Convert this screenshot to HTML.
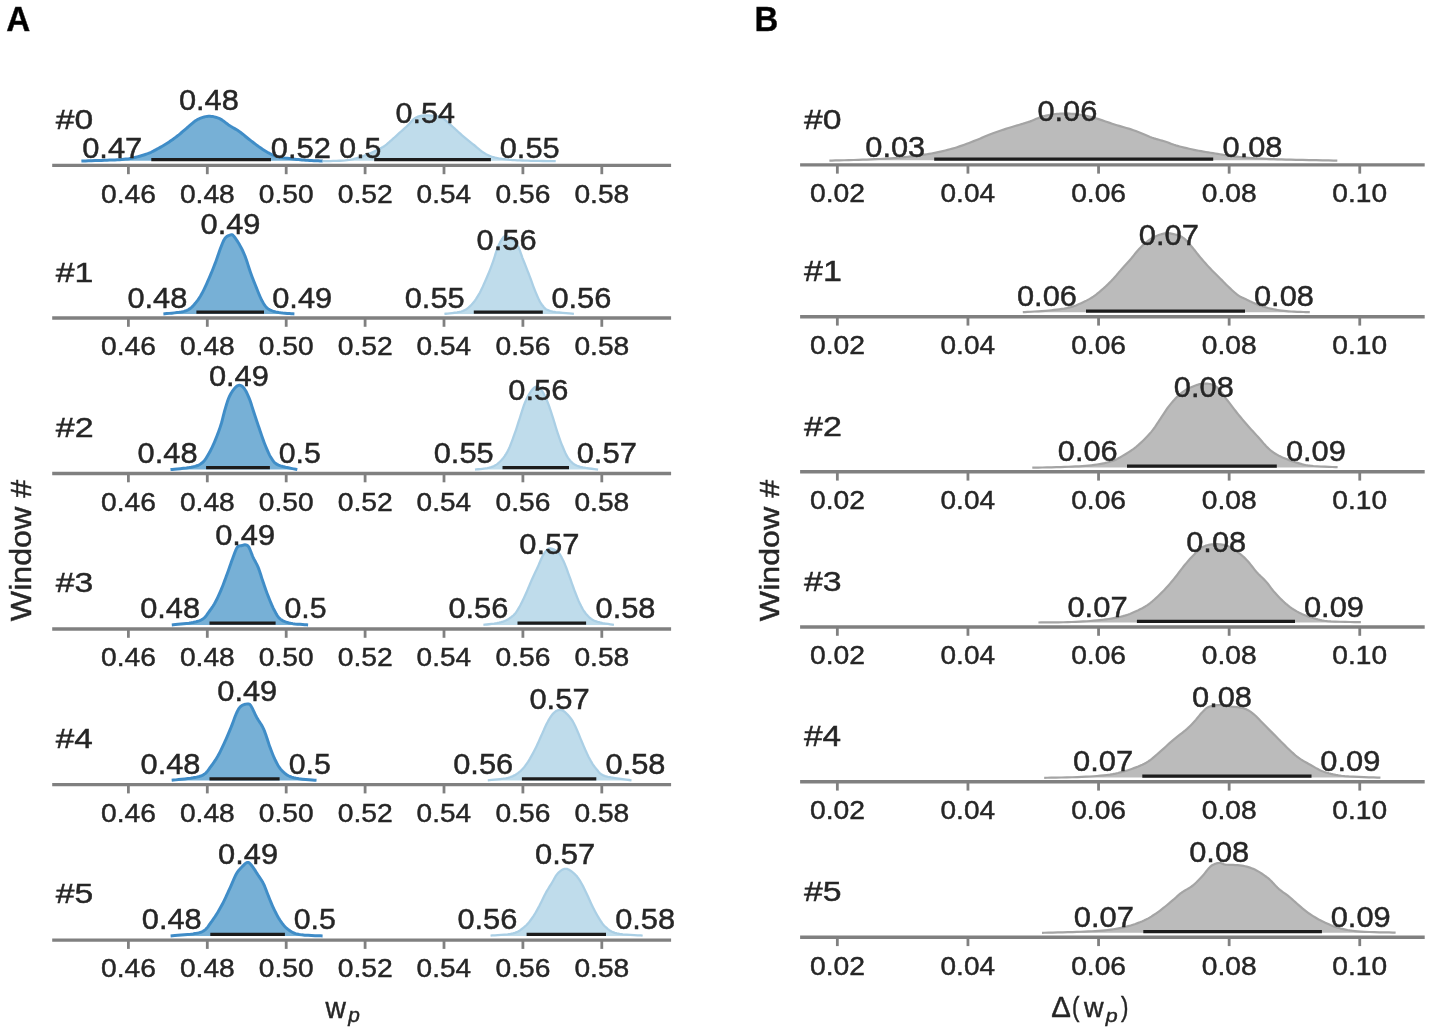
<!DOCTYPE html>
<html><head><meta charset="utf-8"><title>Posterior plots</title>
<style>html,body{margin:0;padding:0;background:#fff;overflow:hidden}svg{display:block}.t{filter:grayscale(1);stroke:#262626;stroke-width:0.45px}text{font-family:"Liberation Sans",sans-serif}</style>
</head><body>
<svg width="1431" height="1033" viewBox="0 0 1431 1033" font-family="Liberation Sans, sans-serif">
<rect width="1431" height="1033" fill="#ffffff"/>
<text class="t" transform="translate(6.27,30.60) scale(0.9574,1)" font-size="34.76" font-weight="bold" fill="#000">A</text>
<text class="t" transform="translate(754.58,30.60) scale(0.9479,1)" font-size="34.76" font-weight="bold" fill="#000">B</text>
<text class="t" transform="translate(31.41,621.16) rotate(-90) scale(1.0948,1)" font-size="29.39" fill="#262626">Window #</text>
<text class="t" transform="translate(778.72,621.16) rotate(-90) scale(1.1369,1)" font-size="28.30" fill="#262626">Window #</text>
<text class="t" transform="translate(325.42,1017.88) scale(0.9755,1)" font-size="28.93" fill="#262626">w</text>
<text class="t" transform="translate(348.24,1022.11) scale(1.0376,1)" font-size="20.08" font-style="italic" fill="#262626">p</text>
<text class="t" transform="translate(1051.14,1017.48) scale(1.0281,1)" font-size="28.60" fill="#262626">Δ</text>
<text class="t" transform="translate(1072.02,1016.10) scale(0.8307,1)" font-size="26.87" fill="#262626">(</text>
<text class="t" transform="translate(1083.92,1017.48) scale(0.9757,1)" font-size="27.79" fill="#262626">w</text>
<text class="t" transform="translate(1105.75,1022.34) scale(1.1250,1)" font-size="19.01" font-style="italic" fill="#262626">p</text>
<text class="t" transform="translate(1121.05,1016.10) scale(0.8307,1)" font-size="26.87" fill="#262626">)</text>
<line x1="52.2" y1="165.4" x2="671.1" y2="165.4" stroke="#808080" stroke-width="3.4"/>
<line x1="128.40" y1="165.4" x2="128.40" y2="174.20" stroke="#808080" stroke-width="2.8"/>
<text class="t" transform="translate(100.99,202.72) scale(1.0700,1)" font-size="26.37" fill="#262626">0.46</text>
<line x1="207.30" y1="165.4" x2="207.30" y2="174.20" stroke="#808080" stroke-width="2.8"/>
<text class="t" transform="translate(179.89,202.72) scale(1.0700,1)" font-size="26.37" fill="#262626">0.48</text>
<line x1="286.20" y1="165.4" x2="286.20" y2="174.20" stroke="#808080" stroke-width="2.8"/>
<text class="t" transform="translate(258.79,202.72) scale(1.0671,1)" font-size="26.37" fill="#262626">0.50</text>
<line x1="365.10" y1="165.4" x2="365.10" y2="174.20" stroke="#808080" stroke-width="2.8"/>
<text class="t" transform="translate(337.69,202.72) scale(1.0743,1)" font-size="26.37" fill="#262626">0.52</text>
<line x1="444.00" y1="165.4" x2="444.00" y2="174.20" stroke="#808080" stroke-width="2.8"/>
<text class="t" transform="translate(416.60,202.72) scale(1.0614,1)" font-size="26.37" fill="#262626">0.54</text>
<line x1="522.90" y1="165.4" x2="522.90" y2="174.20" stroke="#808080" stroke-width="2.8"/>
<text class="t" transform="translate(495.49,202.72) scale(1.0700,1)" font-size="26.37" fill="#262626">0.56</text>
<line x1="601.80" y1="165.4" x2="601.80" y2="174.20" stroke="#808080" stroke-width="2.8"/>
<text class="t" transform="translate(574.39,202.72) scale(1.0700,1)" font-size="26.37" fill="#262626">0.58</text>
<text class="t" transform="translate(55.75,128.71) scale(1.2276,1)" font-size="27.36" fill="#262626">#0</text>
<path d="M81.40,161.00 L83.20,160.95 L85.61,160.88 L88.49,160.80 L91.68,160.71 L95.02,160.62 L98.36,160.51 L101.54,160.41 L104.40,160.30 L107.06,160.20 L109.70,160.09 L112.31,159.99 L114.85,159.88 L117.31,159.76 L119.65,159.63 L121.85,159.47 L123.90,159.30 L125.74,159.11 L127.37,158.91 L128.85,158.71 L130.22,158.48 L131.55,158.23 L132.87,157.96 L134.23,157.65 L135.70,157.30 L137.26,156.91 L138.88,156.48 L140.52,156.02 L142.17,155.53 L143.81,155.02 L145.41,154.49 L146.95,153.95 L148.40,153.40 L149.76,152.84 L151.05,152.27 L152.29,151.68 L153.48,151.07 L154.65,150.45 L155.82,149.81 L156.99,149.16 L158.20,148.50 L159.43,147.83 L160.65,147.14 L161.88,146.44 L163.11,145.72 L164.33,145.00 L165.56,144.25 L166.78,143.48 L168.00,142.70 L169.22,141.90 L170.43,141.09 L171.64,140.25 L172.85,139.41 L174.06,138.54 L175.27,137.65 L176.48,136.74 L177.70,135.80 L178.92,134.83 L180.14,133.81 L181.37,132.77 L182.59,131.71 L183.82,130.64 L185.05,129.57 L186.27,128.52 L187.50,127.50 L188.72,126.47 L189.92,125.41 L191.11,124.35 L192.31,123.29 L193.52,122.28 L194.75,121.33 L196.01,120.46 L197.30,119.70 L198.63,119.02 L200.00,118.40 L201.40,117.85 L202.82,117.36 L204.25,116.96 L205.67,116.64 L207.10,116.42 L208.50,116.30 L209.90,116.29 L211.31,116.39 L212.73,116.58 L214.14,116.86 L215.54,117.22 L216.92,117.65 L218.28,118.15 L219.60,118.70 L220.89,119.35 L222.14,120.11 L223.37,120.97 L224.59,121.88 L225.79,122.82 L226.99,123.76 L228.19,124.66 L229.40,125.50 L230.62,126.27 L231.83,126.99 L233.04,127.69 L234.25,128.39 L235.46,129.09 L236.67,129.81 L237.88,130.58 L239.10,131.40 L240.32,132.29 L241.54,133.23 L242.77,134.20 L243.99,135.21 L245.22,136.22 L246.45,137.23 L247.67,138.23 L248.90,139.20 L250.12,140.15 L251.35,141.10 L252.58,142.05 L253.80,142.99 L255.03,143.92 L256.25,144.84 L257.48,145.73 L258.70,146.60 L259.93,147.46 L261.15,148.31 L262.38,149.14 L263.60,149.96 L264.82,150.75 L266.05,151.51 L267.27,152.23 L268.50,152.90 L269.69,153.52 L270.84,154.11 L271.96,154.65 L273.09,155.16 L274.27,155.64 L275.51,156.09 L276.84,156.51 L278.30,156.90 L279.90,157.26 L281.63,157.58 L283.46,157.86 L285.35,158.12 L287.28,158.35 L289.22,158.58 L291.13,158.79 L293.00,159.00 L294.83,159.20 L296.64,159.40 L298.46,159.57 L300.27,159.74 L302.09,159.89 L303.91,160.04 L305.75,160.17 L307.60,160.30 L309.58,160.42 L311.71,160.53 L313.92,160.64 L316.11,160.73 L318.19,160.82 L320.05,160.89 L321.62,160.95 L322.80,161.00" fill="none" stroke="#3f8bc8" stroke-width="3.0" stroke-linejoin="round"/>
<path d="M81.40,161.00 L83.20,160.95 L85.61,160.88 L88.49,160.80 L91.68,160.71 L95.02,160.62 L98.36,160.51 L101.54,160.41 L104.40,160.30 L107.06,160.20 L109.70,160.09 L112.31,159.99 L114.85,159.88 L117.31,159.76 L119.65,159.63 L121.85,159.47 L123.90,159.30 L125.74,159.11 L127.37,158.91 L128.85,158.71 L130.22,158.48 L131.55,158.23 L132.87,157.96 L134.23,157.65 L135.70,157.30 L137.26,156.91 L138.88,156.48 L140.52,156.02 L142.17,155.53 L143.81,155.02 L145.41,154.49 L146.95,153.95 L148.40,153.40 L149.76,152.84 L151.05,152.27 L152.29,151.68 L153.48,151.07 L154.65,150.45 L155.82,149.81 L156.99,149.16 L158.20,148.50 L159.43,147.83 L160.65,147.14 L161.88,146.44 L163.11,145.72 L164.33,145.00 L165.56,144.25 L166.78,143.48 L168.00,142.70 L169.22,141.90 L170.43,141.09 L171.64,140.25 L172.85,139.41 L174.06,138.54 L175.27,137.65 L176.48,136.74 L177.70,135.80 L178.92,134.83 L180.14,133.81 L181.37,132.77 L182.59,131.71 L183.82,130.64 L185.05,129.57 L186.27,128.52 L187.50,127.50 L188.72,126.47 L189.92,125.41 L191.11,124.35 L192.31,123.29 L193.52,122.28 L194.75,121.33 L196.01,120.46 L197.30,119.70 L198.63,119.02 L200.00,118.40 L201.40,117.85 L202.82,117.36 L204.25,116.96 L205.67,116.64 L207.10,116.42 L208.50,116.30 L209.90,116.29 L211.31,116.39 L212.73,116.58 L214.14,116.86 L215.54,117.22 L216.92,117.65 L218.28,118.15 L219.60,118.70 L220.89,119.35 L222.14,120.11 L223.37,120.97 L224.59,121.88 L225.79,122.82 L226.99,123.76 L228.19,124.66 L229.40,125.50 L230.62,126.27 L231.83,126.99 L233.04,127.69 L234.25,128.39 L235.46,129.09 L236.67,129.81 L237.88,130.58 L239.10,131.40 L240.32,132.29 L241.54,133.23 L242.77,134.20 L243.99,135.21 L245.22,136.22 L246.45,137.23 L247.67,138.23 L248.90,139.20 L250.12,140.15 L251.35,141.10 L252.58,142.05 L253.80,142.99 L255.03,143.92 L256.25,144.84 L257.48,145.73 L258.70,146.60 L259.93,147.46 L261.15,148.31 L262.38,149.14 L263.60,149.96 L264.82,150.75 L266.05,151.51 L267.27,152.23 L268.50,152.90 L269.69,153.52 L270.84,154.11 L271.96,154.65 L273.09,155.16 L274.27,155.64 L275.51,156.09 L276.84,156.51 L278.30,156.90 L279.90,157.26 L281.63,157.58 L283.46,157.86 L285.35,158.12 L287.28,158.35 L289.22,158.58 L291.13,158.79 L293.00,159.00 L294.83,159.20 L296.64,159.40 L298.46,159.57 L300.27,159.74 L302.09,159.89 L303.91,160.04 L305.75,160.17 L307.60,160.30 L309.58,160.42 L311.71,160.53 L313.92,160.64 L316.11,160.73 L318.19,160.82 L320.05,160.89 L321.62,160.95 L322.80,161.00 L322.80,160.7 L81.40,160.7 Z" fill="rgba(66,146,198,0.72)"/>
<line x1="151.3" y1="159.6" x2="271.0" y2="159.6" stroke="#1c1c1c" stroke-width="3.2"/>
<path d="M322.50,161.20 L324.32,161.15 L326.82,161.10 L329.80,161.03 L333.07,160.96 L336.44,160.86 L339.71,160.74 L342.70,160.59 L345.20,160.40 L347.25,160.18 L349.04,159.95 L350.63,159.68 L352.08,159.39 L353.45,159.07 L354.81,158.72 L356.20,158.33 L357.70,157.90 L359.27,157.43 L360.84,156.91 L362.42,156.36 L363.99,155.78 L365.57,155.17 L367.15,154.53 L368.72,153.87 L370.30,153.20 L371.90,152.50 L373.55,151.77 L375.21,151.01 L376.86,150.22 L378.48,149.43 L380.05,148.62 L381.53,147.81 L382.90,147.00 L384.15,146.19 L385.30,145.38 L386.36,144.56 L387.36,143.74 L388.33,142.90 L389.30,142.05 L390.28,141.18 L391.30,140.30 L392.35,139.39 L393.40,138.46 L394.45,137.51 L395.51,136.55 L396.56,135.58 L397.61,134.61 L398.65,133.65 L399.70,132.70 L400.76,131.75 L401.84,130.79 L402.93,129.83 L404.01,128.87 L405.07,127.92 L406.10,126.99 L407.08,126.08 L408.00,125.20 L408.85,124.33 L409.62,123.46 L410.35,122.60 L411.05,121.77 L411.73,120.97 L412.43,120.21 L413.14,119.52 L413.90,118.90 L414.69,118.35 L415.48,117.86 L416.28,117.42 L417.09,117.03 L417.93,116.69 L418.79,116.39 L419.68,116.13 L420.60,115.90 L421.55,115.71 L422.52,115.58 L423.51,115.48 L424.53,115.43 L425.58,115.41 L426.68,115.42 L427.81,115.45 L429.00,115.50 L430.29,115.57 L431.71,115.67 L433.21,115.80 L434.73,115.95 L436.22,116.13 L437.63,116.33 L438.91,116.55 L440.00,116.80 L440.85,117.04 L441.50,117.25 L442.00,117.48 L442.42,117.73 L442.84,118.04 L443.31,118.44 L443.91,118.95 L444.70,119.60 L445.68,120.41 L446.79,121.38 L448.01,122.46 L449.29,123.62 L450.61,124.84 L451.94,126.06 L453.24,127.26 L454.50,128.40 L455.72,129.51 L456.93,130.62 L458.14,131.74 L459.35,132.86 L460.56,133.97 L461.77,135.07 L462.98,136.15 L464.20,137.20 L465.42,138.22 L466.64,139.22 L467.87,140.20 L469.09,141.16 L470.32,142.12 L471.55,143.07 L472.77,144.03 L474.00,145.00 L475.23,146.00 L476.45,147.03 L477.68,148.07 L478.90,149.11 L480.12,150.12 L481.35,151.09 L482.57,151.99 L483.80,152.80 L484.99,153.53 L486.14,154.18 L487.26,154.78 L488.39,155.33 L489.57,155.84 L490.81,156.31 L492.14,156.76 L493.60,157.20 L495.17,157.61 L496.82,157.99 L498.54,158.34 L500.34,158.66 L502.22,158.96 L504.17,159.22 L506.20,159.47 L508.30,159.70 L510.45,159.90 L512.64,160.07 L514.89,160.21 L517.23,160.32 L519.66,160.43 L522.22,160.52 L524.93,160.61 L527.80,160.70 L531.08,160.79 L534.84,160.87 L538.87,160.95 L542.97,161.01 L546.91,161.07 L550.49,161.12 L553.49,161.16 L555.70,161.20 L555.70,160.7 L322.50,160.7 Z" fill="rgba(158,202,225,0.66)"/>
<path d="M322.50,161.20 L324.32,161.15 L326.82,161.10 L329.80,161.03 L333.07,160.96 L336.44,160.86 L339.71,160.74 L342.70,160.59 L345.20,160.40 L347.25,160.18 L349.04,159.95 L350.63,159.68 L352.08,159.39 L353.45,159.07 L354.81,158.72 L356.20,158.33 L357.70,157.90 L359.27,157.43 L360.84,156.91 L362.42,156.36 L363.99,155.78 L365.57,155.17 L367.15,154.53 L368.72,153.87 L370.30,153.20 L371.90,152.50 L373.55,151.77 L375.21,151.01 L376.86,150.22 L378.48,149.43 L380.05,148.62 L381.53,147.81 L382.90,147.00 L384.15,146.19 L385.30,145.38 L386.36,144.56 L387.36,143.74 L388.33,142.90 L389.30,142.05 L390.28,141.18 L391.30,140.30 L392.35,139.39 L393.40,138.46 L394.45,137.51 L395.51,136.55 L396.56,135.58 L397.61,134.61 L398.65,133.65 L399.70,132.70 L400.76,131.75 L401.84,130.79 L402.93,129.83 L404.01,128.87 L405.07,127.92 L406.10,126.99 L407.08,126.08 L408.00,125.20 L408.85,124.33 L409.62,123.46 L410.35,122.60 L411.05,121.77 L411.73,120.97 L412.43,120.21 L413.14,119.52 L413.90,118.90 L414.69,118.35 L415.48,117.86 L416.28,117.42 L417.09,117.03 L417.93,116.69 L418.79,116.39 L419.68,116.13 L420.60,115.90 L421.55,115.71 L422.52,115.58 L423.51,115.48 L424.53,115.43 L425.58,115.41 L426.68,115.42 L427.81,115.45 L429.00,115.50 L430.29,115.57 L431.71,115.67 L433.21,115.80 L434.73,115.95 L436.22,116.13 L437.63,116.33 L438.91,116.55 L440.00,116.80 L440.85,117.04 L441.50,117.25 L442.00,117.48 L442.42,117.73 L442.84,118.04 L443.31,118.44 L443.91,118.95 L444.70,119.60 L445.68,120.41 L446.79,121.38 L448.01,122.46 L449.29,123.62 L450.61,124.84 L451.94,126.06 L453.24,127.26 L454.50,128.40 L455.72,129.51 L456.93,130.62 L458.14,131.74 L459.35,132.86 L460.56,133.97 L461.77,135.07 L462.98,136.15 L464.20,137.20 L465.42,138.22 L466.64,139.22 L467.87,140.20 L469.09,141.16 L470.32,142.12 L471.55,143.07 L472.77,144.03 L474.00,145.00 L475.23,146.00 L476.45,147.03 L477.68,148.07 L478.90,149.11 L480.12,150.12 L481.35,151.09 L482.57,151.99 L483.80,152.80 L484.99,153.53 L486.14,154.18 L487.26,154.78 L488.39,155.33 L489.57,155.84 L490.81,156.31 L492.14,156.76 L493.60,157.20 L495.17,157.61 L496.82,157.99 L498.54,158.34 L500.34,158.66 L502.22,158.96 L504.17,159.22 L506.20,159.47 L508.30,159.70 L510.45,159.90 L512.64,160.07 L514.89,160.21 L517.23,160.32 L519.66,160.43 L522.22,160.52 L524.93,160.61 L527.80,160.70 L531.08,160.79 L534.84,160.87 L538.87,160.95 L542.97,161.01 L546.91,161.07 L550.49,161.12 L553.49,161.16 L555.70,161.20" fill="none" stroke="#aacfe5" stroke-width="2.3" stroke-linejoin="round"/>
<line x1="374.2" y1="159.6" x2="490.9" y2="159.6" stroke="#1c1c1c" stroke-width="3.2"/>
<text class="t" transform="translate(178.89,110.49) scale(1.0702,1)" font-size="28.78" fill="#262626">0.48</text>
<text class="t" transform="translate(82.13,157.89) scale(1.0745,1)" font-size="28.78" fill="#262626">0.47</text>
<text class="t" transform="translate(270.78,157.89) scale(1.0745,1)" font-size="28.78" fill="#262626">0.52</text>
<text class="t" transform="translate(395.45,123.09) scale(1.0616,1)" font-size="28.78" fill="#262626">0.54</text>
<text class="t" transform="translate(339.31,157.89) scale(1.0520,1)" font-size="28.78" fill="#262626">0.5</text>
<text class="t" transform="translate(499.74,157.89) scale(1.0688,1)" font-size="28.78" fill="#262626">0.55</text>
<line x1="800.1" y1="164.85" x2="1424.7" y2="164.85" stroke="#808080" stroke-width="3.4"/>
<line x1="837.35" y1="164.85" x2="837.35" y2="173.65" stroke="#808080" stroke-width="2.8"/>
<text class="t" transform="translate(809.94,202.17) scale(1.0743,1)" font-size="26.37" fill="#262626">0.02</text>
<line x1="967.95" y1="164.85" x2="967.95" y2="173.65" stroke="#808080" stroke-width="2.8"/>
<text class="t" transform="translate(940.55,202.17) scale(1.0614,1)" font-size="26.37" fill="#262626">0.04</text>
<line x1="1098.55" y1="164.85" x2="1098.55" y2="173.65" stroke="#808080" stroke-width="2.8"/>
<text class="t" transform="translate(1071.14,202.17) scale(1.0700,1)" font-size="26.37" fill="#262626">0.06</text>
<line x1="1229.15" y1="164.85" x2="1229.15" y2="173.65" stroke="#808080" stroke-width="2.8"/>
<text class="t" transform="translate(1201.74,202.17) scale(1.0700,1)" font-size="26.37" fill="#262626">0.08</text>
<line x1="1359.75" y1="164.85" x2="1359.75" y2="173.65" stroke="#808080" stroke-width="2.8"/>
<text class="t" transform="translate(1332.34,202.17) scale(1.0671,1)" font-size="26.37" fill="#262626">0.10</text>
<text class="t" transform="translate(804.05,128.55) scale(1.2061,1)" font-size="27.93" fill="#262626">#0</text>
<path d="M829.40,160.60 L831.98,160.54 L835.43,160.45 L839.53,160.36 L844.08,160.25 L848.88,160.13 L853.72,160.00 L858.40,159.85 L862.70,159.70 L866.77,159.54 L870.85,159.38 L874.93,159.20 L878.96,159.02 L882.94,158.82 L886.82,158.60 L890.58,158.36 L894.20,158.10 L897.69,157.81 L901.07,157.49 L904.35,157.15 L907.54,156.79 L910.62,156.42 L913.61,156.05 L916.50,155.67 L919.30,155.30 L921.96,154.94 L924.46,154.59 L926.84,154.24 L929.14,153.89 L931.38,153.51 L933.62,153.12 L935.88,152.68 L938.20,152.20 L940.56,151.68 L942.93,151.13 L945.29,150.55 L947.66,149.94 L950.02,149.30 L952.38,148.63 L954.74,147.93 L957.10,147.20 L959.48,146.42 L961.89,145.59 L964.32,144.73 L966.74,143.83 L969.13,142.93 L971.46,142.03 L973.73,141.15 L975.90,140.30 L977.95,139.48 L979.90,138.67 L981.77,137.87 L983.59,137.07 L985.39,136.29 L987.21,135.52 L989.07,134.75 L991.00,134.00 L993.03,133.25 L995.14,132.49 L997.29,131.74 L999.46,130.99 L1001.60,130.27 L1003.70,129.58 L1005.71,128.92 L1007.60,128.30 L1009.38,127.73 L1011.09,127.20 L1012.73,126.71 L1014.31,126.24 L1015.84,125.79 L1017.33,125.36 L1018.78,124.93 L1020.20,124.50 L1021.56,124.09 L1022.82,123.72 L1024.03,123.37 L1025.20,123.03 L1026.37,122.67 L1027.58,122.29 L1028.84,121.87 L1030.20,121.40 L1031.65,120.85 L1033.17,120.22 L1034.73,119.55 L1036.34,118.85 L1037.96,118.16 L1039.59,117.50 L1041.21,116.91 L1042.80,116.40 L1044.38,115.97 L1045.95,115.59 L1047.52,115.26 L1049.10,114.97 L1050.67,114.71 L1052.25,114.49 L1053.83,114.28 L1055.40,114.10 L1056.98,113.94 L1058.55,113.81 L1060.13,113.71 L1061.71,113.63 L1063.28,113.58 L1064.86,113.56 L1066.43,113.57 L1068.00,113.60 L1069.55,113.65 L1071.07,113.73 L1072.58,113.83 L1074.09,113.96 L1075.63,114.11 L1077.19,114.31 L1078.81,114.53 L1080.50,114.80 L1082.24,115.10 L1084.00,115.43 L1085.81,115.79 L1087.65,116.18 L1089.54,116.62 L1091.50,117.09 L1093.51,117.62 L1095.60,118.20 L1097.78,118.85 L1100.06,119.59 L1102.41,120.38 L1104.81,121.21 L1107.25,122.05 L1109.69,122.90 L1112.11,123.72 L1114.50,124.50 L1116.86,125.23 L1119.23,125.92 L1121.59,126.60 L1123.96,127.28 L1126.32,127.96 L1128.68,128.66 L1131.04,129.41 L1133.40,130.20 L1135.80,131.08 L1138.25,132.04 L1140.72,133.04 L1143.18,134.07 L1145.59,135.08 L1147.92,136.04 L1150.14,136.93 L1152.20,137.70 L1154.09,138.35 L1155.83,138.90 L1157.45,139.37 L1158.99,139.79 L1160.48,140.19 L1161.95,140.59 L1163.45,141.02 L1165.00,141.50 L1166.54,142.02 L1168.02,142.56 L1169.47,143.11 L1170.92,143.66 L1172.43,144.22 L1174.02,144.79 L1175.73,145.35 L1177.60,145.90 L1179.65,146.46 L1181.86,147.03 L1184.19,147.60 L1186.61,148.18 L1189.07,148.74 L1191.55,149.28 L1194.00,149.81 L1196.40,150.30 L1198.76,150.76 L1201.12,151.19 L1203.48,151.60 L1205.84,151.99 L1208.21,152.37 L1210.57,152.75 L1212.94,153.12 L1215.30,153.50 L1217.62,153.88 L1219.88,154.26 L1222.12,154.64 L1224.36,155.02 L1226.66,155.38 L1229.04,155.74 L1231.54,156.08 L1234.20,156.40 L1237.00,156.71 L1239.89,157.00 L1242.88,157.29 L1245.96,157.56 L1249.15,157.81 L1252.43,158.06 L1255.81,158.29 L1259.30,158.50 L1262.83,158.70 L1266.37,158.87 L1269.98,159.03 L1273.71,159.17 L1277.61,159.31 L1281.72,159.44 L1286.10,159.57 L1290.80,159.70 L1296.21,159.83 L1302.46,159.97 L1309.18,160.10 L1316.02,160.22 L1322.61,160.34 L1328.59,160.45 L1333.61,160.53 L1337.30,160.60 L1337.30,160.3 L829.40,160.3 Z" fill="#bbbbbb"/>
<path d="M829.40,160.60 L831.98,160.54 L835.43,160.45 L839.53,160.36 L844.08,160.25 L848.88,160.13 L853.72,160.00 L858.40,159.85 L862.70,159.70 L866.77,159.54 L870.85,159.38 L874.93,159.20 L878.96,159.02 L882.94,158.82 L886.82,158.60 L890.58,158.36 L894.20,158.10 L897.69,157.81 L901.07,157.49 L904.35,157.15 L907.54,156.79 L910.62,156.42 L913.61,156.05 L916.50,155.67 L919.30,155.30 L921.96,154.94 L924.46,154.59 L926.84,154.24 L929.14,153.89 L931.38,153.51 L933.62,153.12 L935.88,152.68 L938.20,152.20 L940.56,151.68 L942.93,151.13 L945.29,150.55 L947.66,149.94 L950.02,149.30 L952.38,148.63 L954.74,147.93 L957.10,147.20 L959.48,146.42 L961.89,145.59 L964.32,144.73 L966.74,143.83 L969.13,142.93 L971.46,142.03 L973.73,141.15 L975.90,140.30 L977.95,139.48 L979.90,138.67 L981.77,137.87 L983.59,137.07 L985.39,136.29 L987.21,135.52 L989.07,134.75 L991.00,134.00 L993.03,133.25 L995.14,132.49 L997.29,131.74 L999.46,130.99 L1001.60,130.27 L1003.70,129.58 L1005.71,128.92 L1007.60,128.30 L1009.38,127.73 L1011.09,127.20 L1012.73,126.71 L1014.31,126.24 L1015.84,125.79 L1017.33,125.36 L1018.78,124.93 L1020.20,124.50 L1021.56,124.09 L1022.82,123.72 L1024.03,123.37 L1025.20,123.03 L1026.37,122.67 L1027.58,122.29 L1028.84,121.87 L1030.20,121.40 L1031.65,120.85 L1033.17,120.22 L1034.73,119.55 L1036.34,118.85 L1037.96,118.16 L1039.59,117.50 L1041.21,116.91 L1042.80,116.40 L1044.38,115.97 L1045.95,115.59 L1047.52,115.26 L1049.10,114.97 L1050.67,114.71 L1052.25,114.49 L1053.83,114.28 L1055.40,114.10 L1056.98,113.94 L1058.55,113.81 L1060.13,113.71 L1061.71,113.63 L1063.28,113.58 L1064.86,113.56 L1066.43,113.57 L1068.00,113.60 L1069.55,113.65 L1071.07,113.73 L1072.58,113.83 L1074.09,113.96 L1075.63,114.11 L1077.19,114.31 L1078.81,114.53 L1080.50,114.80 L1082.24,115.10 L1084.00,115.43 L1085.81,115.79 L1087.65,116.18 L1089.54,116.62 L1091.50,117.09 L1093.51,117.62 L1095.60,118.20 L1097.78,118.85 L1100.06,119.59 L1102.41,120.38 L1104.81,121.21 L1107.25,122.05 L1109.69,122.90 L1112.11,123.72 L1114.50,124.50 L1116.86,125.23 L1119.23,125.92 L1121.59,126.60 L1123.96,127.28 L1126.32,127.96 L1128.68,128.66 L1131.04,129.41 L1133.40,130.20 L1135.80,131.08 L1138.25,132.04 L1140.72,133.04 L1143.18,134.07 L1145.59,135.08 L1147.92,136.04 L1150.14,136.93 L1152.20,137.70 L1154.09,138.35 L1155.83,138.90 L1157.45,139.37 L1158.99,139.79 L1160.48,140.19 L1161.95,140.59 L1163.45,141.02 L1165.00,141.50 L1166.54,142.02 L1168.02,142.56 L1169.47,143.11 L1170.92,143.66 L1172.43,144.22 L1174.02,144.79 L1175.73,145.35 L1177.60,145.90 L1179.65,146.46 L1181.86,147.03 L1184.19,147.60 L1186.61,148.18 L1189.07,148.74 L1191.55,149.28 L1194.00,149.81 L1196.40,150.30 L1198.76,150.76 L1201.12,151.19 L1203.48,151.60 L1205.84,151.99 L1208.21,152.37 L1210.57,152.75 L1212.94,153.12 L1215.30,153.50 L1217.62,153.88 L1219.88,154.26 L1222.12,154.64 L1224.36,155.02 L1226.66,155.38 L1229.04,155.74 L1231.54,156.08 L1234.20,156.40 L1237.00,156.71 L1239.89,157.00 L1242.88,157.29 L1245.96,157.56 L1249.15,157.81 L1252.43,158.06 L1255.81,158.29 L1259.30,158.50 L1262.83,158.70 L1266.37,158.87 L1269.98,159.03 L1273.71,159.17 L1277.61,159.31 L1281.72,159.44 L1286.10,159.57 L1290.80,159.70 L1296.21,159.83 L1302.46,159.97 L1309.18,160.10 L1316.02,160.22 L1322.61,160.34 L1328.59,160.45 L1333.61,160.53 L1337.30,160.60" fill="none" stroke="#a4a4a4" stroke-width="2.2" stroke-linejoin="round"/>
<line x1="934.2" y1="159.15" x2="1213.2" y2="159.15" stroke="#1c1c1c" stroke-width="3.2"/>
<text class="t" transform="translate(1037.39,121.09) scale(1.0702,1)" font-size="28.78" fill="#262626">0.06</text>
<text class="t" transform="translate(865.29,156.69) scale(1.0702,1)" font-size="28.78" fill="#262626">0.03</text>
<text class="t" transform="translate(1222.54,156.69) scale(1.0702,1)" font-size="28.78" fill="#262626">0.08</text>
<line x1="52.2" y1="318.0" x2="671.1" y2="318.0" stroke="#808080" stroke-width="3.4"/>
<line x1="128.40" y1="318.0" x2="128.40" y2="326.80" stroke="#808080" stroke-width="2.8"/>
<text class="t" transform="translate(100.99,355.32) scale(1.0700,1)" font-size="26.37" fill="#262626">0.46</text>
<line x1="207.30" y1="318.0" x2="207.30" y2="326.80" stroke="#808080" stroke-width="2.8"/>
<text class="t" transform="translate(179.89,355.32) scale(1.0700,1)" font-size="26.37" fill="#262626">0.48</text>
<line x1="286.20" y1="318.0" x2="286.20" y2="326.80" stroke="#808080" stroke-width="2.8"/>
<text class="t" transform="translate(258.79,355.32) scale(1.0671,1)" font-size="26.37" fill="#262626">0.50</text>
<line x1="365.10" y1="318.0" x2="365.10" y2="326.80" stroke="#808080" stroke-width="2.8"/>
<text class="t" transform="translate(337.69,355.32) scale(1.0743,1)" font-size="26.37" fill="#262626">0.52</text>
<line x1="444.00" y1="318.0" x2="444.00" y2="326.80" stroke="#808080" stroke-width="2.8"/>
<text class="t" transform="translate(416.60,355.32) scale(1.0614,1)" font-size="26.37" fill="#262626">0.54</text>
<line x1="522.90" y1="318.0" x2="522.90" y2="326.80" stroke="#808080" stroke-width="2.8"/>
<text class="t" transform="translate(495.49,355.32) scale(1.0700,1)" font-size="26.37" fill="#262626">0.56</text>
<line x1="601.80" y1="318.0" x2="601.80" y2="326.80" stroke="#808080" stroke-width="2.8"/>
<text class="t" transform="translate(574.39,355.32) scale(1.0700,1)" font-size="26.37" fill="#262626">0.58</text>
<text class="t" transform="translate(55.75,281.58) scale(1.2042,1)" font-size="28.16" fill="#262626">#1</text>
<path d="M163.40,313.90 L164.84,313.76 L166.82,313.59 L169.18,313.38 L171.78,313.14 L174.43,312.88 L176.99,312.60 L179.30,312.31 L181.20,312.00 L182.71,311.69 L184.01,311.38 L185.13,311.07 L186.12,310.72 L187.02,310.35 L187.87,309.93 L188.71,309.45 L189.60,308.90 L190.49,308.29 L191.32,307.62 L192.12,306.91 L192.88,306.15 L193.63,305.34 L194.37,304.48 L195.13,303.56 L195.90,302.60 L196.68,301.61 L197.45,300.60 L198.22,299.54 L198.99,298.44 L199.76,297.26 L200.55,295.99 L201.36,294.61 L202.20,293.10 L203.07,291.43 L203.98,289.61 L204.91,287.67 L205.85,285.64 L206.79,283.56 L207.72,281.47 L208.63,279.40 L209.50,277.40 L210.34,275.43 L211.17,273.45 L211.98,271.47 L212.78,269.49 L213.56,267.51 L214.33,265.55 L215.07,263.61 L215.80,261.70 L216.51,259.77 L217.20,257.82 L217.87,255.86 L218.53,253.92 L219.17,252.04 L219.80,250.24 L220.41,248.55 L221.00,247.00 L221.57,245.57 L222.09,244.23 L222.60,242.98 L223.09,241.82 L223.59,240.76 L224.10,239.78 L224.63,238.90 L225.20,238.10 L225.82,237.41 L226.50,236.82 L227.20,236.33 L227.92,235.93 L228.63,235.61 L229.30,235.35 L229.94,235.15 L230.50,235.00 L230.97,234.87 L231.35,234.76 L231.68,234.71 L231.99,234.72 L232.30,234.83 L232.65,235.06 L233.07,235.45 L233.60,236.00 L234.24,236.76 L234.98,237.72 L235.78,238.84 L236.62,240.07 L237.48,241.39 L238.33,242.74 L239.14,244.09 L239.90,245.40 L240.60,246.67 L241.28,247.92 L241.93,249.20 L242.56,250.50 L243.19,251.85 L243.82,253.28 L244.45,254.78 L245.10,256.40 L245.76,258.16 L246.42,260.06 L247.08,262.07 L247.75,264.14 L248.42,266.23 L249.08,268.29 L249.74,270.30 L250.40,272.20 L251.05,274.00 L251.68,275.73 L252.31,277.41 L252.94,279.07 L253.57,280.72 L254.23,282.37 L254.90,284.06 L255.60,285.80 L256.33,287.63 L257.10,289.55 L257.88,291.51 L258.68,293.48 L259.49,295.40 L260.30,297.24 L261.10,298.96 L261.90,300.50 L262.66,301.88 L263.38,303.16 L264.08,304.32 L264.79,305.39 L265.53,306.38 L266.33,307.29 L267.21,308.12 L268.20,308.90 L269.28,309.59 L270.41,310.19 L271.60,310.70 L272.86,311.14 L274.20,311.52 L275.61,311.87 L277.11,312.19 L278.70,312.50 L280.52,312.79 L282.63,313.04 L284.90,313.25 L287.21,313.43 L289.43,313.57 L291.46,313.70 L293.15,313.81 L294.40,313.90" fill="none" stroke="#3f8bc8" stroke-width="3.0" stroke-linejoin="round"/>
<path d="M163.40,313.90 L164.84,313.76 L166.82,313.59 L169.18,313.38 L171.78,313.14 L174.43,312.88 L176.99,312.60 L179.30,312.31 L181.20,312.00 L182.71,311.69 L184.01,311.38 L185.13,311.07 L186.12,310.72 L187.02,310.35 L187.87,309.93 L188.71,309.45 L189.60,308.90 L190.49,308.29 L191.32,307.62 L192.12,306.91 L192.88,306.15 L193.63,305.34 L194.37,304.48 L195.13,303.56 L195.90,302.60 L196.68,301.61 L197.45,300.60 L198.22,299.54 L198.99,298.44 L199.76,297.26 L200.55,295.99 L201.36,294.61 L202.20,293.10 L203.07,291.43 L203.98,289.61 L204.91,287.67 L205.85,285.64 L206.79,283.56 L207.72,281.47 L208.63,279.40 L209.50,277.40 L210.34,275.43 L211.17,273.45 L211.98,271.47 L212.78,269.49 L213.56,267.51 L214.33,265.55 L215.07,263.61 L215.80,261.70 L216.51,259.77 L217.20,257.82 L217.87,255.86 L218.53,253.92 L219.17,252.04 L219.80,250.24 L220.41,248.55 L221.00,247.00 L221.57,245.57 L222.09,244.23 L222.60,242.98 L223.09,241.82 L223.59,240.76 L224.10,239.78 L224.63,238.90 L225.20,238.10 L225.82,237.41 L226.50,236.82 L227.20,236.33 L227.92,235.93 L228.63,235.61 L229.30,235.35 L229.94,235.15 L230.50,235.00 L230.97,234.87 L231.35,234.76 L231.68,234.71 L231.99,234.72 L232.30,234.83 L232.65,235.06 L233.07,235.45 L233.60,236.00 L234.24,236.76 L234.98,237.72 L235.78,238.84 L236.62,240.07 L237.48,241.39 L238.33,242.74 L239.14,244.09 L239.90,245.40 L240.60,246.67 L241.28,247.92 L241.93,249.20 L242.56,250.50 L243.19,251.85 L243.82,253.28 L244.45,254.78 L245.10,256.40 L245.76,258.16 L246.42,260.06 L247.08,262.07 L247.75,264.14 L248.42,266.23 L249.08,268.29 L249.74,270.30 L250.40,272.20 L251.05,274.00 L251.68,275.73 L252.31,277.41 L252.94,279.07 L253.57,280.72 L254.23,282.37 L254.90,284.06 L255.60,285.80 L256.33,287.63 L257.10,289.55 L257.88,291.51 L258.68,293.48 L259.49,295.40 L260.30,297.24 L261.10,298.96 L261.90,300.50 L262.66,301.88 L263.38,303.16 L264.08,304.32 L264.79,305.39 L265.53,306.38 L266.33,307.29 L267.21,308.12 L268.20,308.90 L269.28,309.59 L270.41,310.19 L271.60,310.70 L272.86,311.14 L274.20,311.52 L275.61,311.87 L277.11,312.19 L278.70,312.50 L280.52,312.79 L282.63,313.04 L284.90,313.25 L287.21,313.43 L289.43,313.57 L291.46,313.70 L293.15,313.81 L294.40,313.90 L294.40,314.0 L163.40,314.0 Z" fill="rgba(66,146,198,0.72)"/>
<line x1="196.4" y1="312.2" x2="264.0" y2="312.2" stroke="#1c1c1c" stroke-width="3.2"/>
<path d="M444.40,313.90 L445.75,313.74 L447.59,313.55 L449.79,313.33 L452.21,313.06 L454.70,312.75 L457.13,312.40 L459.34,311.98 L461.20,311.50 L462.74,310.98 L464.09,310.42 L465.31,309.82 L466.42,309.17 L467.47,308.44 L468.49,307.63 L469.52,306.72 L470.60,305.70 L471.70,304.56 L472.79,303.32 L473.87,301.99 L474.93,300.57 L475.97,299.07 L476.99,297.50 L478.00,295.88 L479.00,294.20 L479.98,292.44 L480.95,290.57 L481.90,288.62 L482.83,286.62 L483.75,284.58 L484.65,282.53 L485.53,280.50 L486.40,278.50 L487.25,276.53 L488.08,274.55 L488.89,272.58 L489.69,270.60 L490.47,268.62 L491.23,266.65 L491.97,264.67 L492.70,262.70 L493.40,260.69 L494.08,258.62 L494.73,256.53 L495.37,254.45 L496.00,252.42 L496.63,250.48 L497.26,248.66 L497.90,247.00 L498.57,245.47 L499.25,244.02 L499.95,242.66 L500.64,241.40 L501.32,240.25 L501.96,239.23 L502.56,238.34 L503.10,237.60 L503.58,237.03 L504.00,236.65 L504.38,236.42 L504.73,236.31 L505.05,236.27 L505.36,236.28 L505.68,236.30 L506.00,236.30 L506.28,236.27 L506.49,236.23 L506.67,236.22 L506.86,236.25 L507.08,236.34 L507.39,236.52 L507.82,236.79 L508.40,237.20 L509.18,237.70 L510.13,238.26 L511.20,238.89 L512.36,239.62 L513.54,240.47 L514.71,241.46 L515.81,242.59 L516.80,243.90 L517.69,245.43 L518.52,247.19 L519.32,249.13 L520.09,251.19 L520.84,253.32 L521.58,255.46 L522.33,257.58 L523.10,259.60 L523.88,261.55 L524.65,263.50 L525.43,265.44 L526.20,267.38 L526.97,269.33 L527.75,271.30 L528.52,273.28 L529.30,275.30 L530.08,277.38 L530.87,279.52 L531.66,281.70 L532.44,283.89 L533.23,286.06 L534.02,288.17 L534.81,290.19 L535.60,292.10 L536.37,293.92 L537.13,295.69 L537.87,297.41 L538.62,299.06 L539.38,300.62 L540.18,302.09 L541.01,303.46 L541.90,304.70 L542.75,305.81 L543.50,306.80 L544.23,307.67 L545.02,308.46 L545.94,309.16 L547.08,309.81 L548.51,310.42 L550.30,311.00 L552.68,311.55 L555.68,312.03 L559.07,312.46 L562.62,312.84 L566.11,313.17 L569.30,313.46 L571.98,313.70 L573.90,313.90 L573.90,314.0 L444.40,314.0 Z" fill="rgba(158,202,225,0.66)"/>
<path d="M444.40,313.90 L445.75,313.74 L447.59,313.55 L449.79,313.33 L452.21,313.06 L454.70,312.75 L457.13,312.40 L459.34,311.98 L461.20,311.50 L462.74,310.98 L464.09,310.42 L465.31,309.82 L466.42,309.17 L467.47,308.44 L468.49,307.63 L469.52,306.72 L470.60,305.70 L471.70,304.56 L472.79,303.32 L473.87,301.99 L474.93,300.57 L475.97,299.07 L476.99,297.50 L478.00,295.88 L479.00,294.20 L479.98,292.44 L480.95,290.57 L481.90,288.62 L482.83,286.62 L483.75,284.58 L484.65,282.53 L485.53,280.50 L486.40,278.50 L487.25,276.53 L488.08,274.55 L488.89,272.58 L489.69,270.60 L490.47,268.62 L491.23,266.65 L491.97,264.67 L492.70,262.70 L493.40,260.69 L494.08,258.62 L494.73,256.53 L495.37,254.45 L496.00,252.42 L496.63,250.48 L497.26,248.66 L497.90,247.00 L498.57,245.47 L499.25,244.02 L499.95,242.66 L500.64,241.40 L501.32,240.25 L501.96,239.23 L502.56,238.34 L503.10,237.60 L503.58,237.03 L504.00,236.65 L504.38,236.42 L504.73,236.31 L505.05,236.27 L505.36,236.28 L505.68,236.30 L506.00,236.30 L506.28,236.27 L506.49,236.23 L506.67,236.22 L506.86,236.25 L507.08,236.34 L507.39,236.52 L507.82,236.79 L508.40,237.20 L509.18,237.70 L510.13,238.26 L511.20,238.89 L512.36,239.62 L513.54,240.47 L514.71,241.46 L515.81,242.59 L516.80,243.90 L517.69,245.43 L518.52,247.19 L519.32,249.13 L520.09,251.19 L520.84,253.32 L521.58,255.46 L522.33,257.58 L523.10,259.60 L523.88,261.55 L524.65,263.50 L525.43,265.44 L526.20,267.38 L526.97,269.33 L527.75,271.30 L528.52,273.28 L529.30,275.30 L530.08,277.38 L530.87,279.52 L531.66,281.70 L532.44,283.89 L533.23,286.06 L534.02,288.17 L534.81,290.19 L535.60,292.10 L536.37,293.92 L537.13,295.69 L537.87,297.41 L538.62,299.06 L539.38,300.62 L540.18,302.09 L541.01,303.46 L541.90,304.70 L542.75,305.81 L543.50,306.80 L544.23,307.67 L545.02,308.46 L545.94,309.16 L547.08,309.81 L548.51,310.42 L550.30,311.00 L552.68,311.55 L555.68,312.03 L559.07,312.46 L562.62,312.84 L566.11,313.17 L569.30,313.46 L571.98,313.70 L573.90,313.90" fill="none" stroke="#aacfe5" stroke-width="2.3" stroke-linejoin="round"/>
<line x1="473.8" y1="312.2" x2="542.8" y2="312.2" stroke="#1c1c1c" stroke-width="3.2"/>
<text class="t" transform="translate(200.49,234.49) scale(1.0716,1)" font-size="28.78" fill="#262626">0.49</text>
<text class="t" transform="translate(127.39,307.89) scale(1.0702,1)" font-size="28.78" fill="#262626">0.48</text>
<text class="t" transform="translate(272.19,307.89) scale(1.0716,1)" font-size="28.78" fill="#262626">0.49</text>
<text class="t" transform="translate(476.59,249.59) scale(1.0702,1)" font-size="28.78" fill="#262626">0.56</text>
<text class="t" transform="translate(404.74,307.89) scale(1.0688,1)" font-size="28.78" fill="#262626">0.55</text>
<text class="t" transform="translate(551.44,307.89) scale(1.0702,1)" font-size="28.78" fill="#262626">0.56</text>
<line x1="800.1" y1="316.8" x2="1424.7" y2="316.8" stroke="#808080" stroke-width="3.4"/>
<line x1="837.35" y1="316.8" x2="837.35" y2="325.60" stroke="#808080" stroke-width="2.8"/>
<text class="t" transform="translate(809.94,354.12) scale(1.0743,1)" font-size="26.37" fill="#262626">0.02</text>
<line x1="967.95" y1="316.8" x2="967.95" y2="325.60" stroke="#808080" stroke-width="2.8"/>
<text class="t" transform="translate(940.55,354.12) scale(1.0614,1)" font-size="26.37" fill="#262626">0.04</text>
<line x1="1098.55" y1="316.8" x2="1098.55" y2="325.60" stroke="#808080" stroke-width="2.8"/>
<text class="t" transform="translate(1071.14,354.12) scale(1.0700,1)" font-size="26.37" fill="#262626">0.06</text>
<line x1="1229.15" y1="316.8" x2="1229.15" y2="325.60" stroke="#808080" stroke-width="2.8"/>
<text class="t" transform="translate(1201.74,354.12) scale(1.0700,1)" font-size="26.37" fill="#262626">0.08</text>
<line x1="1359.75" y1="316.8" x2="1359.75" y2="325.60" stroke="#808080" stroke-width="2.8"/>
<text class="t" transform="translate(1332.34,354.12) scale(1.0671,1)" font-size="26.37" fill="#262626">0.10</text>
<text class="t" transform="translate(804.05,280.78) scale(1.1831,1)" font-size="28.74" fill="#262626">#1</text>
<path d="M1022.80,312.20 L1024.82,312.08 L1027.55,311.92 L1030.80,311.74 L1034.39,311.52 L1038.14,311.29 L1041.86,311.04 L1045.38,310.78 L1048.50,310.50 L1051.33,310.22 L1054.10,309.93 L1056.78,309.63 L1059.37,309.31 L1061.86,308.96 L1064.26,308.58 L1066.54,308.16 L1068.70,307.70 L1070.72,307.19 L1072.58,306.63 L1074.32,306.03 L1075.96,305.41 L1077.53,304.75 L1079.06,304.08 L1080.58,303.39 L1082.10,302.70 L1083.61,302.01 L1085.06,301.32 L1086.47,300.62 L1087.84,299.90 L1089.20,299.15 L1090.56,298.35 L1091.92,297.51 L1093.30,296.60 L1094.71,295.61 L1096.13,294.55 L1097.56,293.43 L1098.99,292.28 L1100.40,291.10 L1101.77,289.91 L1103.11,288.74 L1104.40,287.60 L1105.63,286.48 L1106.83,285.37 L1107.98,284.26 L1109.11,283.15 L1110.21,282.04 L1111.28,280.93 L1112.35,279.82 L1113.40,278.70 L1114.42,277.59 L1115.41,276.48 L1116.36,275.38 L1117.30,274.27 L1118.24,273.15 L1119.19,272.02 L1120.18,270.87 L1121.20,269.70 L1122.27,268.50 L1123.37,267.29 L1124.49,266.05 L1125.63,264.81 L1126.78,263.55 L1127.93,262.27 L1129.07,260.99 L1130.20,259.70 L1131.32,258.37 L1132.46,256.99 L1133.59,255.58 L1134.72,254.17 L1135.85,252.79 L1136.95,251.45 L1138.04,250.17 L1139.10,249.00 L1140.12,247.92 L1141.10,246.92 L1142.05,245.97 L1142.99,245.08 L1143.94,244.23 L1144.89,243.41 L1145.88,242.60 L1146.90,241.80 L1147.97,241.00 L1149.07,240.22 L1150.19,239.46 L1151.33,238.73 L1152.48,238.02 L1153.63,237.37 L1154.77,236.76 L1155.90,236.20 L1157.03,235.70 L1158.19,235.23 L1159.35,234.81 L1160.51,234.44 L1161.65,234.11 L1162.75,233.82 L1163.81,233.59 L1164.80,233.40 L1165.69,233.26 L1166.46,233.16 L1167.17,233.10 L1167.86,233.09 L1168.56,233.14 L1169.32,233.23 L1170.19,233.39 L1171.20,233.60 L1172.39,233.86 L1173.72,234.16 L1175.15,234.50 L1176.64,234.91 L1178.16,235.38 L1179.65,235.93 L1181.08,236.56 L1182.40,237.30 L1183.62,238.15 L1184.78,239.11 L1185.90,240.16 L1186.99,241.28 L1188.06,242.47 L1189.12,243.69 L1190.20,244.94 L1191.30,246.20 L1192.41,247.49 L1193.52,248.84 L1194.62,250.23 L1195.73,251.66 L1196.85,253.10 L1197.98,254.55 L1199.13,255.98 L1200.30,257.40 L1201.50,258.81 L1202.73,260.23 L1203.97,261.65 L1205.23,263.07 L1206.50,264.48 L1207.77,265.88 L1209.04,267.25 L1210.30,268.60 L1211.57,269.92 L1212.85,271.23 L1214.13,272.52 L1215.42,273.79 L1216.70,275.05 L1217.96,276.29 L1219.19,277.50 L1220.40,278.70 L1221.57,279.88 L1222.71,281.04 L1223.82,282.17 L1224.92,283.29 L1226.01,284.40 L1227.10,285.48 L1228.19,286.55 L1229.30,287.60 L1230.42,288.65 L1231.55,289.70 L1232.67,290.75 L1233.80,291.78 L1234.93,292.77 L1236.05,293.71 L1237.18,294.59 L1238.30,295.40 L1239.40,296.12 L1240.48,296.75 L1241.54,297.31 L1242.61,297.82 L1243.70,298.32 L1244.82,298.82 L1245.98,299.34 L1247.20,299.90 L1248.47,300.51 L1249.79,301.14 L1251.13,301.78 L1252.52,302.43 L1253.94,303.08 L1255.39,303.71 L1256.88,304.32 L1258.40,304.90 L1259.95,305.46 L1261.52,306.01 L1263.11,306.54 L1264.75,307.06 L1266.43,307.56 L1268.16,308.04 L1269.95,308.48 L1271.80,308.90 L1273.71,309.29 L1275.66,309.65 L1277.66,309.98 L1279.71,310.29 L1281.83,310.58 L1284.01,310.84 L1286.27,311.08 L1288.60,311.30 L1291.18,311.49 L1294.09,311.65 L1297.16,311.79 L1300.25,311.90 L1303.21,311.99 L1305.89,312.07 L1308.13,312.14 L1309.80,312.20 L1309.80,312.2 L1022.80,312.2 Z" fill="#bbbbbb"/>
<path d="M1022.80,312.20 L1024.82,312.08 L1027.55,311.92 L1030.80,311.74 L1034.39,311.52 L1038.14,311.29 L1041.86,311.04 L1045.38,310.78 L1048.50,310.50 L1051.33,310.22 L1054.10,309.93 L1056.78,309.63 L1059.37,309.31 L1061.86,308.96 L1064.26,308.58 L1066.54,308.16 L1068.70,307.70 L1070.72,307.19 L1072.58,306.63 L1074.32,306.03 L1075.96,305.41 L1077.53,304.75 L1079.06,304.08 L1080.58,303.39 L1082.10,302.70 L1083.61,302.01 L1085.06,301.32 L1086.47,300.62 L1087.84,299.90 L1089.20,299.15 L1090.56,298.35 L1091.92,297.51 L1093.30,296.60 L1094.71,295.61 L1096.13,294.55 L1097.56,293.43 L1098.99,292.28 L1100.40,291.10 L1101.77,289.91 L1103.11,288.74 L1104.40,287.60 L1105.63,286.48 L1106.83,285.37 L1107.98,284.26 L1109.11,283.15 L1110.21,282.04 L1111.28,280.93 L1112.35,279.82 L1113.40,278.70 L1114.42,277.59 L1115.41,276.48 L1116.36,275.38 L1117.30,274.27 L1118.24,273.15 L1119.19,272.02 L1120.18,270.87 L1121.20,269.70 L1122.27,268.50 L1123.37,267.29 L1124.49,266.05 L1125.63,264.81 L1126.78,263.55 L1127.93,262.27 L1129.07,260.99 L1130.20,259.70 L1131.32,258.37 L1132.46,256.99 L1133.59,255.58 L1134.72,254.17 L1135.85,252.79 L1136.95,251.45 L1138.04,250.17 L1139.10,249.00 L1140.12,247.92 L1141.10,246.92 L1142.05,245.97 L1142.99,245.08 L1143.94,244.23 L1144.89,243.41 L1145.88,242.60 L1146.90,241.80 L1147.97,241.00 L1149.07,240.22 L1150.19,239.46 L1151.33,238.73 L1152.48,238.02 L1153.63,237.37 L1154.77,236.76 L1155.90,236.20 L1157.03,235.70 L1158.19,235.23 L1159.35,234.81 L1160.51,234.44 L1161.65,234.11 L1162.75,233.82 L1163.81,233.59 L1164.80,233.40 L1165.69,233.26 L1166.46,233.16 L1167.17,233.10 L1167.86,233.09 L1168.56,233.14 L1169.32,233.23 L1170.19,233.39 L1171.20,233.60 L1172.39,233.86 L1173.72,234.16 L1175.15,234.50 L1176.64,234.91 L1178.16,235.38 L1179.65,235.93 L1181.08,236.56 L1182.40,237.30 L1183.62,238.15 L1184.78,239.11 L1185.90,240.16 L1186.99,241.28 L1188.06,242.47 L1189.12,243.69 L1190.20,244.94 L1191.30,246.20 L1192.41,247.49 L1193.52,248.84 L1194.62,250.23 L1195.73,251.66 L1196.85,253.10 L1197.98,254.55 L1199.13,255.98 L1200.30,257.40 L1201.50,258.81 L1202.73,260.23 L1203.97,261.65 L1205.23,263.07 L1206.50,264.48 L1207.77,265.88 L1209.04,267.25 L1210.30,268.60 L1211.57,269.92 L1212.85,271.23 L1214.13,272.52 L1215.42,273.79 L1216.70,275.05 L1217.96,276.29 L1219.19,277.50 L1220.40,278.70 L1221.57,279.88 L1222.71,281.04 L1223.82,282.17 L1224.92,283.29 L1226.01,284.40 L1227.10,285.48 L1228.19,286.55 L1229.30,287.60 L1230.42,288.65 L1231.55,289.70 L1232.67,290.75 L1233.80,291.78 L1234.93,292.77 L1236.05,293.71 L1237.18,294.59 L1238.30,295.40 L1239.40,296.12 L1240.48,296.75 L1241.54,297.31 L1242.61,297.82 L1243.70,298.32 L1244.82,298.82 L1245.98,299.34 L1247.20,299.90 L1248.47,300.51 L1249.79,301.14 L1251.13,301.78 L1252.52,302.43 L1253.94,303.08 L1255.39,303.71 L1256.88,304.32 L1258.40,304.90 L1259.95,305.46 L1261.52,306.01 L1263.11,306.54 L1264.75,307.06 L1266.43,307.56 L1268.16,308.04 L1269.95,308.48 L1271.80,308.90 L1273.71,309.29 L1275.66,309.65 L1277.66,309.98 L1279.71,310.29 L1281.83,310.58 L1284.01,310.84 L1286.27,311.08 L1288.60,311.30 L1291.18,311.49 L1294.09,311.65 L1297.16,311.79 L1300.25,311.90 L1303.21,311.99 L1305.89,312.07 L1308.13,312.14 L1309.80,312.20" fill="none" stroke="#a4a4a4" stroke-width="2.2" stroke-linejoin="round"/>
<line x1="1086.0" y1="311.1" x2="1245.0" y2="311.1" stroke="#1c1c1c" stroke-width="3.2"/>
<text class="t" transform="translate(1138.78,245.49) scale(1.0745,1)" font-size="28.78" fill="#262626">0.07</text>
<text class="t" transform="translate(1016.99,306.29) scale(1.0702,1)" font-size="28.78" fill="#262626">0.06</text>
<text class="t" transform="translate(1253.99,306.29) scale(1.0702,1)" font-size="28.78" fill="#262626">0.08</text>
<line x1="52.2" y1="473.5" x2="671.1" y2="473.5" stroke="#808080" stroke-width="3.4"/>
<line x1="128.40" y1="473.5" x2="128.40" y2="482.30" stroke="#808080" stroke-width="2.8"/>
<text class="t" transform="translate(100.99,510.82) scale(1.0700,1)" font-size="26.37" fill="#262626">0.46</text>
<line x1="207.30" y1="473.5" x2="207.30" y2="482.30" stroke="#808080" stroke-width="2.8"/>
<text class="t" transform="translate(179.89,510.82) scale(1.0700,1)" font-size="26.37" fill="#262626">0.48</text>
<line x1="286.20" y1="473.5" x2="286.20" y2="482.30" stroke="#808080" stroke-width="2.8"/>
<text class="t" transform="translate(258.79,510.82) scale(1.0671,1)" font-size="26.37" fill="#262626">0.50</text>
<line x1="365.10" y1="473.5" x2="365.10" y2="482.30" stroke="#808080" stroke-width="2.8"/>
<text class="t" transform="translate(337.69,510.82) scale(1.0743,1)" font-size="26.37" fill="#262626">0.52</text>
<line x1="444.00" y1="473.5" x2="444.00" y2="482.30" stroke="#808080" stroke-width="2.8"/>
<text class="t" transform="translate(416.60,510.82) scale(1.0614,1)" font-size="26.37" fill="#262626">0.54</text>
<line x1="522.90" y1="473.5" x2="522.90" y2="482.30" stroke="#808080" stroke-width="2.8"/>
<text class="t" transform="translate(495.49,510.82) scale(1.0700,1)" font-size="26.37" fill="#262626">0.56</text>
<line x1="601.80" y1="473.5" x2="601.80" y2="482.30" stroke="#808080" stroke-width="2.8"/>
<text class="t" transform="translate(574.39,510.82) scale(1.0700,1)" font-size="26.37" fill="#262626">0.58</text>
<text class="t" transform="translate(55.75,437.08) scale(1.2246,1)" font-size="27.76" fill="#262626">#2</text>
<path d="M170.50,469.60 L172.18,469.43 L174.50,469.21 L177.26,468.95 L180.29,468.66 L183.41,468.33 L186.42,467.98 L189.14,467.60 L191.40,467.20 L193.24,466.80 L194.85,466.40 L196.28,465.98 L197.56,465.52 L198.73,465.03 L199.81,464.47 L200.86,463.83 L201.90,463.10 L202.89,462.28 L203.77,461.40 L204.57,460.45 L205.31,459.43 L206.02,458.35 L206.72,457.20 L207.44,455.98 L208.20,454.70 L208.99,453.35 L209.77,451.94 L210.56,450.47 L211.35,448.93 L212.14,447.32 L212.92,445.64 L213.71,443.90 L214.50,442.10 L215.30,440.19 L216.12,438.17 L216.95,436.06 L217.78,433.89 L218.59,431.70 L219.37,429.52 L220.11,427.38 L220.80,425.30 L221.43,423.26 L222.00,421.23 L222.53,419.20 L223.03,417.19 L223.52,415.21 L224.00,413.28 L224.49,411.41 L225.00,409.60 L225.52,407.85 L226.03,406.13 L226.53,404.46 L227.04,402.84 L227.55,401.28 L228.08,399.78 L228.63,398.35 L229.20,397.00 L229.81,395.71 L230.44,394.49 L231.10,393.32 L231.77,392.22 L232.44,391.19 L233.11,390.24 L233.77,389.38 L234.40,388.60 L235.01,387.90 L235.61,387.27 L236.19,386.72 L236.77,386.25 L237.35,385.87 L237.93,385.58 L238.51,385.39 L239.10,385.30 L239.69,385.31 L240.28,385.40 L240.88,385.59 L241.47,385.87 L242.07,386.25 L242.67,386.75 L243.28,387.36 L243.90,388.10 L244.53,388.97 L245.17,389.96 L245.82,391.07 L246.47,392.29 L247.13,393.62 L247.79,395.03 L248.45,396.53 L249.10,398.10 L249.75,399.79 L250.40,401.62 L251.05,403.57 L251.69,405.59 L252.34,407.66 L252.99,409.74 L253.65,411.80 L254.30,413.80 L254.96,415.77 L255.62,417.75 L256.28,419.73 L256.95,421.71 L257.62,423.69 L258.28,425.65 L258.94,427.59 L259.60,429.50 L260.25,431.39 L260.88,433.27 L261.51,435.13 L262.14,436.98 L262.77,438.81 L263.43,440.63 L264.10,442.42 L264.80,444.20 L265.53,446.00 L266.27,447.83 L267.03,449.66 L267.81,451.46 L268.61,453.21 L269.42,454.87 L270.25,456.41 L271.10,457.80 L271.89,459.03 L272.61,460.13 L273.29,461.12 L274.02,462.02 L274.84,462.84 L275.82,463.62 L277.02,464.36 L278.50,465.10 L280.43,465.83 L282.84,466.53 L285.54,467.19 L288.36,467.81 L291.13,468.37 L293.65,468.86 L295.77,469.27 L297.30,469.60" fill="none" stroke="#3f8bc8" stroke-width="3.0" stroke-linejoin="round"/>
<path d="M170.50,469.60 L172.18,469.43 L174.50,469.21 L177.26,468.95 L180.29,468.66 L183.41,468.33 L186.42,467.98 L189.14,467.60 L191.40,467.20 L193.24,466.80 L194.85,466.40 L196.28,465.98 L197.56,465.52 L198.73,465.03 L199.81,464.47 L200.86,463.83 L201.90,463.10 L202.89,462.28 L203.77,461.40 L204.57,460.45 L205.31,459.43 L206.02,458.35 L206.72,457.20 L207.44,455.98 L208.20,454.70 L208.99,453.35 L209.77,451.94 L210.56,450.47 L211.35,448.93 L212.14,447.32 L212.92,445.64 L213.71,443.90 L214.50,442.10 L215.30,440.19 L216.12,438.17 L216.95,436.06 L217.78,433.89 L218.59,431.70 L219.37,429.52 L220.11,427.38 L220.80,425.30 L221.43,423.26 L222.00,421.23 L222.53,419.20 L223.03,417.19 L223.52,415.21 L224.00,413.28 L224.49,411.41 L225.00,409.60 L225.52,407.85 L226.03,406.13 L226.53,404.46 L227.04,402.84 L227.55,401.28 L228.08,399.78 L228.63,398.35 L229.20,397.00 L229.81,395.71 L230.44,394.49 L231.10,393.32 L231.77,392.22 L232.44,391.19 L233.11,390.24 L233.77,389.38 L234.40,388.60 L235.01,387.90 L235.61,387.27 L236.19,386.72 L236.77,386.25 L237.35,385.87 L237.93,385.58 L238.51,385.39 L239.10,385.30 L239.69,385.31 L240.28,385.40 L240.88,385.59 L241.47,385.87 L242.07,386.25 L242.67,386.75 L243.28,387.36 L243.90,388.10 L244.53,388.97 L245.17,389.96 L245.82,391.07 L246.47,392.29 L247.13,393.62 L247.79,395.03 L248.45,396.53 L249.10,398.10 L249.75,399.79 L250.40,401.62 L251.05,403.57 L251.69,405.59 L252.34,407.66 L252.99,409.74 L253.65,411.80 L254.30,413.80 L254.96,415.77 L255.62,417.75 L256.28,419.73 L256.95,421.71 L257.62,423.69 L258.28,425.65 L258.94,427.59 L259.60,429.50 L260.25,431.39 L260.88,433.27 L261.51,435.13 L262.14,436.98 L262.77,438.81 L263.43,440.63 L264.10,442.42 L264.80,444.20 L265.53,446.00 L266.27,447.83 L267.03,449.66 L267.81,451.46 L268.61,453.21 L269.42,454.87 L270.25,456.41 L271.10,457.80 L271.89,459.03 L272.61,460.13 L273.29,461.12 L274.02,462.02 L274.84,462.84 L275.82,463.62 L277.02,464.36 L278.50,465.10 L280.43,465.83 L282.84,466.53 L285.54,467.19 L288.36,467.81 L291.13,468.37 L293.65,468.86 L295.77,469.27 L297.30,469.60 L297.30,469.5 L170.50,469.5 Z" fill="rgba(66,146,198,0.72)"/>
<line x1="206.1" y1="467.7" x2="269.9" y2="467.7" stroke="#1c1c1c" stroke-width="3.2"/>
<path d="M475.00,469.60 L476.30,469.44 L478.07,469.26 L480.19,469.04 L482.51,468.79 L484.91,468.48 L487.25,468.12 L489.39,467.70 L491.20,467.20 L492.71,466.64 L494.07,466.02 L495.31,465.34 L496.45,464.61 L497.52,463.81 L498.55,462.94 L499.57,462.01 L500.60,461.00 L501.63,459.93 L502.62,458.80 L503.57,457.61 L504.49,456.35 L505.39,455.01 L506.27,453.60 L507.14,452.10 L508.00,450.50 L508.85,448.78 L509.68,446.92 L510.49,444.96 L511.29,442.92 L512.07,440.85 L512.83,438.77 L513.57,436.71 L514.30,434.70 L515.00,432.73 L515.68,430.77 L516.33,428.81 L516.97,426.84 L517.60,424.88 L518.23,422.92 L518.86,420.96 L519.50,419.00 L520.15,417.00 L520.80,414.95 L521.45,412.88 L522.09,410.82 L522.74,408.81 L523.39,406.86 L524.05,405.01 L524.70,403.30 L525.36,401.71 L526.02,400.20 L526.68,398.77 L527.35,397.43 L528.02,396.16 L528.68,394.97 L529.34,393.85 L530.00,392.80 L530.65,391.81 L531.30,390.87 L531.95,389.99 L532.60,389.20 L533.25,388.50 L533.90,387.91 L534.55,387.44 L535.20,387.10 L535.85,386.87 L536.49,386.73 L537.14,386.69 L537.78,386.77 L538.43,386.98 L539.10,387.35 L539.79,387.88 L540.50,388.60 L541.25,389.55 L542.03,390.72 L542.84,392.08 L543.66,393.58 L544.47,395.19 L545.28,396.85 L546.06,398.54 L546.80,400.20 L547.50,401.87 L548.18,403.59 L548.83,405.36 L549.47,407.18 L550.10,409.03 L550.73,410.92 L551.36,412.85 L552.00,414.80 L552.65,416.81 L553.30,418.89 L553.95,421.03 L554.59,423.19 L555.24,425.36 L555.89,427.50 L556.55,429.59 L557.20,431.60 L557.85,433.55 L558.49,435.47 L559.14,437.36 L559.78,439.21 L560.43,441.03 L561.10,442.82 L561.79,444.58 L562.50,446.30 L563.22,448.01 L563.93,449.72 L564.65,451.41 L565.39,453.06 L566.17,454.66 L566.98,456.17 L567.86,457.59 L568.80,458.90 L569.75,460.09 L570.69,461.19 L571.64,462.20 L572.65,463.12 L573.77,463.98 L575.04,464.77 L576.50,465.51 L578.20,466.20 L580.32,466.83 L582.90,467.40 L585.77,467.91 L588.74,468.36 L591.63,468.75 L594.28,469.08 L596.49,469.36 L598.10,469.60 L598.10,469.5 L475.00,469.5 Z" fill="rgba(158,202,225,0.66)"/>
<path d="M475.00,469.60 L476.30,469.44 L478.07,469.26 L480.19,469.04 L482.51,468.79 L484.91,468.48 L487.25,468.12 L489.39,467.70 L491.20,467.20 L492.71,466.64 L494.07,466.02 L495.31,465.34 L496.45,464.61 L497.52,463.81 L498.55,462.94 L499.57,462.01 L500.60,461.00 L501.63,459.93 L502.62,458.80 L503.57,457.61 L504.49,456.35 L505.39,455.01 L506.27,453.60 L507.14,452.10 L508.00,450.50 L508.85,448.78 L509.68,446.92 L510.49,444.96 L511.29,442.92 L512.07,440.85 L512.83,438.77 L513.57,436.71 L514.30,434.70 L515.00,432.73 L515.68,430.77 L516.33,428.81 L516.97,426.84 L517.60,424.88 L518.23,422.92 L518.86,420.96 L519.50,419.00 L520.15,417.00 L520.80,414.95 L521.45,412.88 L522.09,410.82 L522.74,408.81 L523.39,406.86 L524.05,405.01 L524.70,403.30 L525.36,401.71 L526.02,400.20 L526.68,398.77 L527.35,397.43 L528.02,396.16 L528.68,394.97 L529.34,393.85 L530.00,392.80 L530.65,391.81 L531.30,390.87 L531.95,389.99 L532.60,389.20 L533.25,388.50 L533.90,387.91 L534.55,387.44 L535.20,387.10 L535.85,386.87 L536.49,386.73 L537.14,386.69 L537.78,386.77 L538.43,386.98 L539.10,387.35 L539.79,387.88 L540.50,388.60 L541.25,389.55 L542.03,390.72 L542.84,392.08 L543.66,393.58 L544.47,395.19 L545.28,396.85 L546.06,398.54 L546.80,400.20 L547.50,401.87 L548.18,403.59 L548.83,405.36 L549.47,407.18 L550.10,409.03 L550.73,410.92 L551.36,412.85 L552.00,414.80 L552.65,416.81 L553.30,418.89 L553.95,421.03 L554.59,423.19 L555.24,425.36 L555.89,427.50 L556.55,429.59 L557.20,431.60 L557.85,433.55 L558.49,435.47 L559.14,437.36 L559.78,439.21 L560.43,441.03 L561.10,442.82 L561.79,444.58 L562.50,446.30 L563.22,448.01 L563.93,449.72 L564.65,451.41 L565.39,453.06 L566.17,454.66 L566.98,456.17 L567.86,457.59 L568.80,458.90 L569.75,460.09 L570.69,461.19 L571.64,462.20 L572.65,463.12 L573.77,463.98 L575.04,464.77 L576.50,465.51 L578.20,466.20 L580.32,466.83 L582.90,467.40 L585.77,467.91 L588.74,468.36 L591.63,468.75 L594.28,469.08 L596.49,469.36 L598.10,469.60" fill="none" stroke="#aacfe5" stroke-width="2.3" stroke-linejoin="round"/>
<line x1="502.5" y1="467.7" x2="569.0" y2="467.7" stroke="#1c1c1c" stroke-width="3.2"/>
<text class="t" transform="translate(208.89,385.59) scale(1.0716,1)" font-size="28.78" fill="#262626">0.49</text>
<text class="t" transform="translate(137.59,462.69) scale(1.0702,1)" font-size="28.78" fill="#262626">0.48</text>
<text class="t" transform="translate(278.71,462.69) scale(1.0520,1)" font-size="28.78" fill="#262626">0.5</text>
<text class="t" transform="translate(508.34,400.39) scale(1.0702,1)" font-size="28.78" fill="#262626">0.56</text>
<text class="t" transform="translate(433.74,462.69) scale(1.0688,1)" font-size="28.78" fill="#262626">0.55</text>
<text class="t" transform="translate(576.68,462.69) scale(1.0745,1)" font-size="28.78" fill="#262626">0.57</text>
<line x1="800.1" y1="471.8" x2="1424.7" y2="471.8" stroke="#808080" stroke-width="3.4"/>
<line x1="837.35" y1="471.8" x2="837.35" y2="480.60" stroke="#808080" stroke-width="2.8"/>
<text class="t" transform="translate(809.94,509.12) scale(1.0743,1)" font-size="26.37" fill="#262626">0.02</text>
<line x1="967.95" y1="471.8" x2="967.95" y2="480.60" stroke="#808080" stroke-width="2.8"/>
<text class="t" transform="translate(940.55,509.12) scale(1.0614,1)" font-size="26.37" fill="#262626">0.04</text>
<line x1="1098.55" y1="471.8" x2="1098.55" y2="480.60" stroke="#808080" stroke-width="2.8"/>
<text class="t" transform="translate(1071.14,509.12) scale(1.0700,1)" font-size="26.37" fill="#262626">0.06</text>
<line x1="1229.15" y1="471.8" x2="1229.15" y2="480.60" stroke="#808080" stroke-width="2.8"/>
<text class="t" transform="translate(1201.74,509.12) scale(1.0700,1)" font-size="26.37" fill="#262626">0.08</text>
<line x1="1359.75" y1="471.8" x2="1359.75" y2="480.60" stroke="#808080" stroke-width="2.8"/>
<text class="t" transform="translate(1332.34,509.12) scale(1.0671,1)" font-size="26.37" fill="#262626">0.10</text>
<text class="t" transform="translate(804.05,435.78) scale(1.2032,1)" font-size="28.33" fill="#262626">#2</text>
<path d="M1032.30,467.70 L1034.85,467.64 L1038.28,467.57 L1042.37,467.49 L1046.89,467.40 L1051.62,467.29 L1056.33,467.17 L1060.80,467.04 L1064.80,466.90 L1068.45,466.75 L1072.02,466.61 L1075.50,466.46 L1078.89,466.30 L1082.17,466.11 L1085.36,465.89 L1088.44,465.62 L1091.40,465.30 L1094.25,464.93 L1097.00,464.53 L1099.64,464.09 L1102.18,463.61 L1104.62,463.10 L1106.95,462.54 L1109.17,461.94 L1111.30,461.30 L1113.28,460.62 L1115.09,459.90 L1116.77,459.13 L1118.36,458.33 L1119.90,457.49 L1121.43,456.60 L1122.98,455.67 L1124.60,454.70 L1126.26,453.69 L1127.93,452.66 L1129.59,451.59 L1131.26,450.47 L1132.92,449.30 L1134.58,448.07 L1136.24,446.77 L1137.90,445.40 L1139.58,443.93 L1141.30,442.36 L1143.03,440.71 L1144.75,439.00 L1146.44,437.26 L1148.08,435.52 L1149.64,433.79 L1151.10,432.10 L1152.46,430.43 L1153.73,428.74 L1154.93,427.05 L1156.07,425.36 L1157.18,423.68 L1158.26,422.03 L1159.33,420.40 L1160.40,418.80 L1161.46,417.23 L1162.49,415.67 L1163.50,414.12 L1164.48,412.60 L1165.46,411.11 L1166.43,409.66 L1167.41,408.25 L1168.40,406.90 L1169.40,405.60 L1170.40,404.33 L1171.40,403.11 L1172.41,401.92 L1173.41,400.78 L1174.41,399.68 L1175.40,398.62 L1176.40,397.60 L1177.38,396.62 L1178.35,395.69 L1179.31,394.80 L1180.27,393.96 L1181.24,393.14 L1182.23,392.37 L1183.25,391.62 L1184.30,390.90 L1185.39,390.21 L1186.50,389.56 L1187.64,388.94 L1188.79,388.36 L1189.97,387.80 L1191.16,387.27 L1192.38,386.77 L1193.60,386.30 L1194.84,385.82 L1196.09,385.34 L1197.35,384.86 L1198.63,384.43 L1199.93,384.05 L1201.26,383.75 L1202.62,383.56 L1204.00,383.50 L1205.43,383.53 L1206.92,383.62 L1208.45,383.78 L1210.00,384.04 L1211.55,384.42 L1213.08,384.94 L1214.57,385.63 L1216.00,386.50 L1217.38,387.61 L1218.71,388.95 L1220.01,390.48 L1221.29,392.14 L1222.56,393.88 L1223.83,395.65 L1225.11,397.41 L1226.40,399.10 L1227.71,400.76 L1229.02,402.45 L1230.33,404.17 L1231.64,405.90 L1232.96,407.63 L1234.27,409.35 L1235.59,411.04 L1236.90,412.70 L1238.21,414.33 L1239.53,415.95 L1240.84,417.55 L1242.15,419.13 L1243.46,420.70 L1244.78,422.25 L1246.09,423.78 L1247.40,425.30 L1248.71,426.79 L1250.03,428.25 L1251.34,429.69 L1252.65,431.11 L1253.96,432.53 L1255.28,433.94 L1256.59,435.37 L1257.90,436.80 L1259.21,438.27 L1260.53,439.79 L1261.84,441.33 L1263.15,442.86 L1264.46,444.36 L1265.78,445.80 L1267.09,447.16 L1268.40,448.40 L1269.68,449.53 L1270.90,450.55 L1272.11,451.50 L1273.33,452.38 L1274.58,453.22 L1275.91,454.05 L1277.34,454.86 L1278.90,455.70 L1280.61,456.55 L1282.46,457.41 L1284.41,458.25 L1286.42,459.07 L1288.48,459.87 L1290.55,460.63 L1292.60,461.34 L1294.60,462.00 L1296.48,462.60 L1298.25,463.16 L1299.98,463.67 L1301.72,464.15 L1303.56,464.59 L1305.56,464.99 L1307.78,465.36 L1310.30,465.70 L1313.34,466.00 L1316.95,466.26 L1320.89,466.49 L1324.93,466.68 L1328.85,466.84 L1332.42,466.98 L1335.41,467.10 L1337.60,467.20 L1337.60,467.4 L1032.30,467.4 Z" fill="#bbbbbb"/>
<path d="M1032.30,467.70 L1034.85,467.64 L1038.28,467.57 L1042.37,467.49 L1046.89,467.40 L1051.62,467.29 L1056.33,467.17 L1060.80,467.04 L1064.80,466.90 L1068.45,466.75 L1072.02,466.61 L1075.50,466.46 L1078.89,466.30 L1082.17,466.11 L1085.36,465.89 L1088.44,465.62 L1091.40,465.30 L1094.25,464.93 L1097.00,464.53 L1099.64,464.09 L1102.18,463.61 L1104.62,463.10 L1106.95,462.54 L1109.17,461.94 L1111.30,461.30 L1113.28,460.62 L1115.09,459.90 L1116.77,459.13 L1118.36,458.33 L1119.90,457.49 L1121.43,456.60 L1122.98,455.67 L1124.60,454.70 L1126.26,453.69 L1127.93,452.66 L1129.59,451.59 L1131.26,450.47 L1132.92,449.30 L1134.58,448.07 L1136.24,446.77 L1137.90,445.40 L1139.58,443.93 L1141.30,442.36 L1143.03,440.71 L1144.75,439.00 L1146.44,437.26 L1148.08,435.52 L1149.64,433.79 L1151.10,432.10 L1152.46,430.43 L1153.73,428.74 L1154.93,427.05 L1156.07,425.36 L1157.18,423.68 L1158.26,422.03 L1159.33,420.40 L1160.40,418.80 L1161.46,417.23 L1162.49,415.67 L1163.50,414.12 L1164.48,412.60 L1165.46,411.11 L1166.43,409.66 L1167.41,408.25 L1168.40,406.90 L1169.40,405.60 L1170.40,404.33 L1171.40,403.11 L1172.41,401.92 L1173.41,400.78 L1174.41,399.68 L1175.40,398.62 L1176.40,397.60 L1177.38,396.62 L1178.35,395.69 L1179.31,394.80 L1180.27,393.96 L1181.24,393.14 L1182.23,392.37 L1183.25,391.62 L1184.30,390.90 L1185.39,390.21 L1186.50,389.56 L1187.64,388.94 L1188.79,388.36 L1189.97,387.80 L1191.16,387.27 L1192.38,386.77 L1193.60,386.30 L1194.84,385.82 L1196.09,385.34 L1197.35,384.86 L1198.63,384.43 L1199.93,384.05 L1201.26,383.75 L1202.62,383.56 L1204.00,383.50 L1205.43,383.53 L1206.92,383.62 L1208.45,383.78 L1210.00,384.04 L1211.55,384.42 L1213.08,384.94 L1214.57,385.63 L1216.00,386.50 L1217.38,387.61 L1218.71,388.95 L1220.01,390.48 L1221.29,392.14 L1222.56,393.88 L1223.83,395.65 L1225.11,397.41 L1226.40,399.10 L1227.71,400.76 L1229.02,402.45 L1230.33,404.17 L1231.64,405.90 L1232.96,407.63 L1234.27,409.35 L1235.59,411.04 L1236.90,412.70 L1238.21,414.33 L1239.53,415.95 L1240.84,417.55 L1242.15,419.13 L1243.46,420.70 L1244.78,422.25 L1246.09,423.78 L1247.40,425.30 L1248.71,426.79 L1250.03,428.25 L1251.34,429.69 L1252.65,431.11 L1253.96,432.53 L1255.28,433.94 L1256.59,435.37 L1257.90,436.80 L1259.21,438.27 L1260.53,439.79 L1261.84,441.33 L1263.15,442.86 L1264.46,444.36 L1265.78,445.80 L1267.09,447.16 L1268.40,448.40 L1269.68,449.53 L1270.90,450.55 L1272.11,451.50 L1273.33,452.38 L1274.58,453.22 L1275.91,454.05 L1277.34,454.86 L1278.90,455.70 L1280.61,456.55 L1282.46,457.41 L1284.41,458.25 L1286.42,459.07 L1288.48,459.87 L1290.55,460.63 L1292.60,461.34 L1294.60,462.00 L1296.48,462.60 L1298.25,463.16 L1299.98,463.67 L1301.72,464.15 L1303.56,464.59 L1305.56,464.99 L1307.78,465.36 L1310.30,465.70 L1313.34,466.00 L1316.95,466.26 L1320.89,466.49 L1324.93,466.68 L1328.85,466.84 L1332.42,466.98 L1335.41,467.10 L1337.60,467.20" fill="none" stroke="#a4a4a4" stroke-width="2.2" stroke-linejoin="round"/>
<line x1="1127.0" y1="466.1" x2="1276.8" y2="466.1" stroke="#1c1c1c" stroke-width="3.2"/>
<text class="t" transform="translate(1173.84,397.29) scale(1.0702,1)" font-size="28.78" fill="#262626">0.08</text>
<text class="t" transform="translate(1057.79,461.49) scale(1.0702,1)" font-size="28.78" fill="#262626">0.06</text>
<text class="t" transform="translate(1285.89,461.49) scale(1.0716,1)" font-size="28.78" fill="#262626">0.09</text>
<line x1="52.2" y1="629.0" x2="671.1" y2="629.0" stroke="#808080" stroke-width="3.4"/>
<line x1="128.40" y1="629.0" x2="128.40" y2="637.80" stroke="#808080" stroke-width="2.8"/>
<text class="t" transform="translate(100.99,666.32) scale(1.0700,1)" font-size="26.37" fill="#262626">0.46</text>
<line x1="207.30" y1="629.0" x2="207.30" y2="637.80" stroke="#808080" stroke-width="2.8"/>
<text class="t" transform="translate(179.89,666.32) scale(1.0700,1)" font-size="26.37" fill="#262626">0.48</text>
<line x1="286.20" y1="629.0" x2="286.20" y2="637.80" stroke="#808080" stroke-width="2.8"/>
<text class="t" transform="translate(258.79,666.32) scale(1.0671,1)" font-size="26.37" fill="#262626">0.50</text>
<line x1="365.10" y1="629.0" x2="365.10" y2="637.80" stroke="#808080" stroke-width="2.8"/>
<text class="t" transform="translate(337.69,666.32) scale(1.0743,1)" font-size="26.37" fill="#262626">0.52</text>
<line x1="444.00" y1="629.0" x2="444.00" y2="637.80" stroke="#808080" stroke-width="2.8"/>
<text class="t" transform="translate(416.60,666.32) scale(1.0614,1)" font-size="26.37" fill="#262626">0.54</text>
<line x1="522.90" y1="629.0" x2="522.90" y2="637.80" stroke="#808080" stroke-width="2.8"/>
<text class="t" transform="translate(495.49,666.32) scale(1.0700,1)" font-size="26.37" fill="#262626">0.56</text>
<line x1="601.80" y1="629.0" x2="601.80" y2="637.80" stroke="#808080" stroke-width="2.8"/>
<text class="t" transform="translate(574.39,666.32) scale(1.0700,1)" font-size="26.37" fill="#262626">0.58</text>
<text class="t" transform="translate(55.75,592.31) scale(1.2334,1)" font-size="27.36" fill="#262626">#3</text>
<path d="M171.80,624.90 L173.35,624.75 L175.47,624.56 L178.00,624.34 L180.78,624.08 L183.65,623.80 L186.45,623.49 L189.02,623.15 L191.20,622.80 L193.05,622.44 L194.75,622.07 L196.32,621.69 L197.77,621.27 L199.12,620.82 L200.38,620.32 L201.57,619.75 L202.70,619.10 L203.74,618.37 L204.64,617.58 L205.44,616.72 L206.17,615.81 L206.87,614.86 L207.55,613.86 L208.25,612.84 L209.00,611.80 L209.79,610.75 L210.57,609.68 L211.36,608.58 L212.15,607.44 L212.94,606.26 L213.72,605.01 L214.51,603.70 L215.30,602.30 L216.09,600.82 L216.88,599.26 L217.66,597.64 L218.45,595.96 L219.24,594.21 L220.03,592.42 L220.81,590.58 L221.60,588.70 L222.40,586.74 L223.20,584.67 L224.01,582.54 L224.82,580.36 L225.62,578.18 L226.40,576.02 L227.17,573.92 L227.90,571.90 L228.61,569.94 L229.30,567.99 L229.97,566.06 L230.63,564.17 L231.27,562.34 L231.90,560.58 L232.51,558.89 L233.10,557.30 L233.67,555.77 L234.22,554.28 L234.75,552.84 L235.26,551.49 L235.77,550.23 L236.27,549.10 L236.78,548.12 L237.30,547.30 L237.83,546.69 L238.35,546.29 L238.88,546.05 L239.40,545.92 L239.93,545.87 L240.45,545.85 L240.98,545.80 L241.50,545.70 L242.03,545.54 L242.57,545.37 L243.12,545.20 L243.66,545.05 L244.20,544.93 L244.72,544.86 L245.22,544.84 L245.70,544.90 L246.14,544.99 L246.55,545.10 L246.93,545.23 L247.30,545.42 L247.67,545.70 L248.05,546.09 L248.46,546.61 L248.90,547.30 L249.37,548.18 L249.86,549.26 L250.36,550.48 L250.88,551.80 L251.41,553.19 L251.96,554.59 L252.52,555.98 L253.10,557.30 L253.71,558.57 L254.35,559.82 L255.02,561.07 L255.70,562.34 L256.38,563.62 L257.05,564.94 L257.69,566.29 L258.30,567.70 L258.87,569.16 L259.40,570.65 L259.90,572.17 L260.40,573.73 L260.90,575.32 L261.40,576.95 L261.93,578.61 L262.50,580.30 L263.09,582.04 L263.70,583.83 L264.33,585.66 L264.97,587.52 L265.63,589.40 L266.30,591.28 L266.99,593.15 L267.70,595.00 L268.43,596.87 L269.20,598.80 L269.98,600.75 L270.78,602.68 L271.59,604.58 L272.40,606.40 L273.20,608.12 L274.00,609.70 L274.76,611.16 L275.48,612.54 L276.18,613.84 L276.89,615.06 L277.63,616.19 L278.43,617.24 L279.31,618.21 L280.30,619.10 L281.37,619.89 L282.47,620.58 L283.63,621.17 L284.86,621.69 L286.18,622.14 L287.60,622.55 L289.13,622.93 L290.80,623.30 L292.76,623.64 L295.05,623.92 L297.55,624.16 L300.11,624.36 L302.58,624.53 L304.83,624.67 L306.72,624.79 L308.10,624.90" fill="none" stroke="#3f8bc8" stroke-width="3.0" stroke-linejoin="round"/>
<path d="M171.80,624.90 L173.35,624.75 L175.47,624.56 L178.00,624.34 L180.78,624.08 L183.65,623.80 L186.45,623.49 L189.02,623.15 L191.20,622.80 L193.05,622.44 L194.75,622.07 L196.32,621.69 L197.77,621.27 L199.12,620.82 L200.38,620.32 L201.57,619.75 L202.70,619.10 L203.74,618.37 L204.64,617.58 L205.44,616.72 L206.17,615.81 L206.87,614.86 L207.55,613.86 L208.25,612.84 L209.00,611.80 L209.79,610.75 L210.57,609.68 L211.36,608.58 L212.15,607.44 L212.94,606.26 L213.72,605.01 L214.51,603.70 L215.30,602.30 L216.09,600.82 L216.88,599.26 L217.66,597.64 L218.45,595.96 L219.24,594.21 L220.03,592.42 L220.81,590.58 L221.60,588.70 L222.40,586.74 L223.20,584.67 L224.01,582.54 L224.82,580.36 L225.62,578.18 L226.40,576.02 L227.17,573.92 L227.90,571.90 L228.61,569.94 L229.30,567.99 L229.97,566.06 L230.63,564.17 L231.27,562.34 L231.90,560.58 L232.51,558.89 L233.10,557.30 L233.67,555.77 L234.22,554.28 L234.75,552.84 L235.26,551.49 L235.77,550.23 L236.27,549.10 L236.78,548.12 L237.30,547.30 L237.83,546.69 L238.35,546.29 L238.88,546.05 L239.40,545.92 L239.93,545.87 L240.45,545.85 L240.98,545.80 L241.50,545.70 L242.03,545.54 L242.57,545.37 L243.12,545.20 L243.66,545.05 L244.20,544.93 L244.72,544.86 L245.22,544.84 L245.70,544.90 L246.14,544.99 L246.55,545.10 L246.93,545.23 L247.30,545.42 L247.67,545.70 L248.05,546.09 L248.46,546.61 L248.90,547.30 L249.37,548.18 L249.86,549.26 L250.36,550.48 L250.88,551.80 L251.41,553.19 L251.96,554.59 L252.52,555.98 L253.10,557.30 L253.71,558.57 L254.35,559.82 L255.02,561.07 L255.70,562.34 L256.38,563.62 L257.05,564.94 L257.69,566.29 L258.30,567.70 L258.87,569.16 L259.40,570.65 L259.90,572.17 L260.40,573.73 L260.90,575.32 L261.40,576.95 L261.93,578.61 L262.50,580.30 L263.09,582.04 L263.70,583.83 L264.33,585.66 L264.97,587.52 L265.63,589.40 L266.30,591.28 L266.99,593.15 L267.70,595.00 L268.43,596.87 L269.20,598.80 L269.98,600.75 L270.78,602.68 L271.59,604.58 L272.40,606.40 L273.20,608.12 L274.00,609.70 L274.76,611.16 L275.48,612.54 L276.18,613.84 L276.89,615.06 L277.63,616.19 L278.43,617.24 L279.31,618.21 L280.30,619.10 L281.37,619.89 L282.47,620.58 L283.63,621.17 L284.86,621.69 L286.18,622.14 L287.60,622.55 L289.13,622.93 L290.80,623.30 L292.76,623.64 L295.05,623.92 L297.55,624.16 L300.11,624.36 L302.58,624.53 L304.83,624.67 L306.72,624.79 L308.10,624.90 L308.10,624.9 L171.80,624.9 Z" fill="rgba(66,146,198,0.72)"/>
<line x1="209.5" y1="623.2" x2="275.6" y2="623.2" stroke="#1c1c1c" stroke-width="3.2"/>
<path d="M483.40,624.90 L484.82,624.72 L486.75,624.50 L489.05,624.24 L491.58,623.94 L494.20,623.59 L496.78,623.18 L499.15,622.72 L501.20,622.20 L502.97,621.61 L504.64,620.95 L506.20,620.23 L507.67,619.46 L509.05,618.64 L510.34,617.79 L511.55,616.90 L512.70,616.00 L513.74,615.08 L514.64,614.15 L515.44,613.20 L516.18,612.20 L516.87,611.15 L517.55,610.05 L518.25,608.87 L519.00,607.60 L519.79,606.24 L520.58,604.79 L521.36,603.27 L522.15,601.69 L522.94,600.06 L523.72,598.40 L524.51,596.70 L525.30,595.00 L526.09,593.26 L526.88,591.45 L527.66,589.59 L528.45,587.71 L529.24,585.82 L530.02,583.95 L530.81,582.10 L531.60,580.30 L532.40,578.53 L533.20,576.77 L534.01,575.03 L534.82,573.30 L535.62,571.60 L536.40,569.93 L537.17,568.29 L537.90,566.70 L538.60,565.13 L539.27,563.56 L539.93,562.01 L540.56,560.49 L541.19,559.04 L541.82,557.66 L542.45,556.37 L543.10,555.20 L543.76,554.12 L544.42,553.10 L545.08,552.16 L545.75,551.30 L546.42,550.54 L547.08,549.88 L547.74,549.33 L548.40,548.90 L549.05,548.62 L549.70,548.47 L550.35,548.45 L551.00,548.52 L551.65,548.68 L552.30,548.89 L552.95,549.14 L553.60,549.40 L554.26,549.67 L554.92,549.97 L555.58,550.30 L556.25,550.69 L556.92,551.15 L557.58,551.70 L558.24,552.34 L558.90,553.10 L559.55,553.97 L560.21,554.95 L560.86,556.02 L561.51,557.18 L562.15,558.42 L562.80,559.72 L563.45,561.09 L564.10,562.50 L564.75,563.99 L565.40,565.58 L566.05,567.24 L566.69,568.97 L567.34,570.73 L567.99,572.52 L568.65,574.32 L569.30,576.10 L569.96,577.90 L570.62,579.75 L571.28,581.62 L571.95,583.51 L572.62,585.39 L573.28,587.25 L573.94,589.06 L574.60,590.80 L575.25,592.49 L575.88,594.15 L576.51,595.77 L577.14,597.36 L577.77,598.92 L578.42,600.45 L579.10,601.94 L579.80,603.40 L580.51,604.83 L581.22,606.25 L581.95,607.63 L582.69,608.98 L583.46,610.29 L584.28,611.55 L585.16,612.75 L586.10,613.90 L587.07,614.99 L588.02,616.03 L589.00,617.03 L590.04,617.98 L591.18,618.87 L592.44,619.70 L593.87,620.48 L595.50,621.20 L597.50,621.86 L599.90,622.46 L602.55,623.01 L605.29,623.51 L607.95,623.94 L610.38,624.32 L612.42,624.64 L613.90,624.90 L613.90,624.9 L483.40,624.9 Z" fill="rgba(158,202,225,0.66)"/>
<path d="M483.40,624.90 L484.82,624.72 L486.75,624.50 L489.05,624.24 L491.58,623.94 L494.20,623.59 L496.78,623.18 L499.15,622.72 L501.20,622.20 L502.97,621.61 L504.64,620.95 L506.20,620.23 L507.67,619.46 L509.05,618.64 L510.34,617.79 L511.55,616.90 L512.70,616.00 L513.74,615.08 L514.64,614.15 L515.44,613.20 L516.18,612.20 L516.87,611.15 L517.55,610.05 L518.25,608.87 L519.00,607.60 L519.79,606.24 L520.58,604.79 L521.36,603.27 L522.15,601.69 L522.94,600.06 L523.72,598.40 L524.51,596.70 L525.30,595.00 L526.09,593.26 L526.88,591.45 L527.66,589.59 L528.45,587.71 L529.24,585.82 L530.02,583.95 L530.81,582.10 L531.60,580.30 L532.40,578.53 L533.20,576.77 L534.01,575.03 L534.82,573.30 L535.62,571.60 L536.40,569.93 L537.17,568.29 L537.90,566.70 L538.60,565.13 L539.27,563.56 L539.93,562.01 L540.56,560.49 L541.19,559.04 L541.82,557.66 L542.45,556.37 L543.10,555.20 L543.76,554.12 L544.42,553.10 L545.08,552.16 L545.75,551.30 L546.42,550.54 L547.08,549.88 L547.74,549.33 L548.40,548.90 L549.05,548.62 L549.70,548.47 L550.35,548.45 L551.00,548.52 L551.65,548.68 L552.30,548.89 L552.95,549.14 L553.60,549.40 L554.26,549.67 L554.92,549.97 L555.58,550.30 L556.25,550.69 L556.92,551.15 L557.58,551.70 L558.24,552.34 L558.90,553.10 L559.55,553.97 L560.21,554.95 L560.86,556.02 L561.51,557.18 L562.15,558.42 L562.80,559.72 L563.45,561.09 L564.10,562.50 L564.75,563.99 L565.40,565.58 L566.05,567.24 L566.69,568.97 L567.34,570.73 L567.99,572.52 L568.65,574.32 L569.30,576.10 L569.96,577.90 L570.62,579.75 L571.28,581.62 L571.95,583.51 L572.62,585.39 L573.28,587.25 L573.94,589.06 L574.60,590.80 L575.25,592.49 L575.88,594.15 L576.51,595.77 L577.14,597.36 L577.77,598.92 L578.42,600.45 L579.10,601.94 L579.80,603.40 L580.51,604.83 L581.22,606.25 L581.95,607.63 L582.69,608.98 L583.46,610.29 L584.28,611.55 L585.16,612.75 L586.10,613.90 L587.07,614.99 L588.02,616.03 L589.00,617.03 L590.04,617.98 L591.18,618.87 L592.44,619.70 L593.87,620.48 L595.50,621.20 L597.50,621.86 L599.90,622.46 L602.55,623.01 L605.29,623.51 L607.95,623.94 L610.38,624.32 L612.42,624.64 L613.90,624.90" fill="none" stroke="#aacfe5" stroke-width="2.3" stroke-linejoin="round"/>
<line x1="517.5" y1="623.2" x2="586.1" y2="623.2" stroke="#1c1c1c" stroke-width="3.2"/>
<text class="t" transform="translate(215.14,545.29) scale(1.0716,1)" font-size="28.78" fill="#262626">0.49</text>
<text class="t" transform="translate(140.14,618.39) scale(1.0702,1)" font-size="28.78" fill="#262626">0.48</text>
<text class="t" transform="translate(284.41,618.39) scale(1.0520,1)" font-size="28.78" fill="#262626">0.5</text>
<text class="t" transform="translate(519.23,553.99) scale(1.0745,1)" font-size="28.78" fill="#262626">0.57</text>
<text class="t" transform="translate(448.39,618.39) scale(1.0702,1)" font-size="28.78" fill="#262626">0.56</text>
<text class="t" transform="translate(595.54,618.39) scale(1.0702,1)" font-size="28.78" fill="#262626">0.58</text>
<line x1="800.1" y1="627.0" x2="1424.7" y2="627.0" stroke="#808080" stroke-width="3.4"/>
<line x1="837.35" y1="627.0" x2="837.35" y2="635.80" stroke="#808080" stroke-width="2.8"/>
<text class="t" transform="translate(809.94,664.32) scale(1.0743,1)" font-size="26.37" fill="#262626">0.02</text>
<line x1="967.95" y1="627.0" x2="967.95" y2="635.80" stroke="#808080" stroke-width="2.8"/>
<text class="t" transform="translate(940.55,664.32) scale(1.0614,1)" font-size="26.37" fill="#262626">0.04</text>
<line x1="1098.55" y1="627.0" x2="1098.55" y2="635.80" stroke="#808080" stroke-width="2.8"/>
<text class="t" transform="translate(1071.14,664.32) scale(1.0700,1)" font-size="26.37" fill="#262626">0.06</text>
<line x1="1229.15" y1="627.0" x2="1229.15" y2="635.80" stroke="#808080" stroke-width="2.8"/>
<text class="t" transform="translate(1201.74,664.32) scale(1.0700,1)" font-size="26.37" fill="#262626">0.08</text>
<line x1="1359.75" y1="627.0" x2="1359.75" y2="635.80" stroke="#808080" stroke-width="2.8"/>
<text class="t" transform="translate(1332.34,664.32) scale(1.0671,1)" font-size="26.37" fill="#262626">0.10</text>
<text class="t" transform="translate(804.05,590.70) scale(1.2118,1)" font-size="27.93" fill="#262626">#3</text>
<path d="M1038.40,622.50 L1041.02,622.47 L1044.55,622.44 L1048.75,622.41 L1053.40,622.37 L1058.27,622.31 L1063.13,622.24 L1067.75,622.13 L1071.90,622.00 L1075.71,621.84 L1079.45,621.66 L1083.11,621.46 L1086.69,621.23 L1090.16,620.98 L1093.53,620.71 L1096.78,620.42 L1099.90,620.10 L1102.90,619.76 L1105.79,619.39 L1108.56,619.00 L1111.23,618.59 L1113.78,618.15 L1116.23,617.69 L1118.57,617.21 L1120.80,616.70 L1122.88,616.18 L1124.79,615.65 L1126.56,615.10 L1128.23,614.52 L1129.85,613.91 L1131.46,613.26 L1133.10,612.56 L1134.80,611.80 L1136.55,611.00 L1138.30,610.19 L1140.05,609.33 L1141.80,608.43 L1143.55,607.47 L1145.30,606.44 L1147.05,605.32 L1148.80,604.10 L1150.57,602.76 L1152.37,601.29 L1154.17,599.73 L1155.97,598.11 L1157.76,596.44 L1159.50,594.76 L1161.18,593.11 L1162.80,591.50 L1164.34,589.92 L1165.83,588.35 L1167.27,586.77 L1168.67,585.20 L1170.03,583.62 L1171.37,582.05 L1172.69,580.48 L1174.00,578.90 L1175.28,577.31 L1176.53,575.71 L1177.74,574.11 L1178.94,572.51 L1180.12,570.92 L1181.30,569.34 L1182.49,567.80 L1183.70,566.30 L1184.92,564.82 L1186.14,563.36 L1187.37,561.91 L1188.59,560.49 L1189.82,559.10 L1191.05,557.75 L1192.27,556.45 L1193.50,555.20 L1194.72,553.98 L1195.92,552.77 L1197.11,551.60 L1198.31,550.47 L1199.52,549.41 L1200.75,548.43 L1202.01,547.55 L1203.30,546.80 L1204.63,546.17 L1205.98,545.65 L1207.35,545.22 L1208.74,544.88 L1210.16,544.62 L1211.59,544.43 L1213.04,544.29 L1214.50,544.20 L1215.99,544.16 L1217.52,544.16 L1219.08,544.23 L1220.65,544.37 L1222.22,544.58 L1223.78,544.86 L1225.31,545.24 L1226.80,545.70 L1228.27,546.28 L1229.73,546.98 L1231.18,547.78 L1232.61,548.66 L1234.02,549.58 L1235.39,550.53 L1236.72,551.47 L1238.00,552.40 L1239.21,553.29 L1240.36,554.17 L1241.45,555.05 L1242.52,555.95 L1243.58,556.90 L1244.64,557.91 L1245.75,559.00 L1246.90,560.20 L1248.11,561.55 L1249.37,563.04 L1250.65,564.63 L1251.95,566.28 L1253.25,567.94 L1254.53,569.56 L1255.79,571.09 L1257.00,572.50 L1258.17,573.76 L1259.31,574.91 L1260.43,575.99 L1261.53,577.02 L1262.62,578.04 L1263.70,579.09 L1264.80,580.20 L1265.90,581.40 L1267.00,582.69 L1268.07,584.04 L1269.14,585.43 L1270.21,586.86 L1271.29,588.30 L1272.41,589.75 L1273.58,591.18 L1274.80,592.60 L1276.09,594.02 L1277.44,595.48 L1278.83,596.95 L1280.26,598.41 L1281.70,599.85 L1283.15,601.24 L1284.58,602.56 L1286.00,603.80 L1287.38,604.95 L1288.75,606.04 L1290.10,607.07 L1291.46,608.05 L1292.84,608.99 L1294.25,609.88 L1295.69,610.75 L1297.20,611.60 L1298.75,612.42 L1300.32,613.19 L1301.91,613.94 L1303.55,614.64 L1305.23,615.32 L1306.96,615.97 L1308.75,616.60 L1310.60,617.20 L1312.42,617.79 L1314.17,618.36 L1315.92,618.91 L1317.74,619.43 L1319.73,619.92 L1321.95,620.36 L1324.48,620.76 L1327.40,621.10 L1331.02,621.38 L1335.39,621.60 L1340.21,621.77 L1345.20,621.89 L1350.06,621.99 L1354.49,622.07 L1358.20,622.13 L1360.90,622.20 L1360.90,622.4 L1038.40,622.4 Z" fill="#bbbbbb"/>
<path d="M1038.40,622.50 L1041.02,622.47 L1044.55,622.44 L1048.75,622.41 L1053.40,622.37 L1058.27,622.31 L1063.13,622.24 L1067.75,622.13 L1071.90,622.00 L1075.71,621.84 L1079.45,621.66 L1083.11,621.46 L1086.69,621.23 L1090.16,620.98 L1093.53,620.71 L1096.78,620.42 L1099.90,620.10 L1102.90,619.76 L1105.79,619.39 L1108.56,619.00 L1111.23,618.59 L1113.78,618.15 L1116.23,617.69 L1118.57,617.21 L1120.80,616.70 L1122.88,616.18 L1124.79,615.65 L1126.56,615.10 L1128.23,614.52 L1129.85,613.91 L1131.46,613.26 L1133.10,612.56 L1134.80,611.80 L1136.55,611.00 L1138.30,610.19 L1140.05,609.33 L1141.80,608.43 L1143.55,607.47 L1145.30,606.44 L1147.05,605.32 L1148.80,604.10 L1150.57,602.76 L1152.37,601.29 L1154.17,599.73 L1155.97,598.11 L1157.76,596.44 L1159.50,594.76 L1161.18,593.11 L1162.80,591.50 L1164.34,589.92 L1165.83,588.35 L1167.27,586.77 L1168.67,585.20 L1170.03,583.62 L1171.37,582.05 L1172.69,580.48 L1174.00,578.90 L1175.28,577.31 L1176.53,575.71 L1177.74,574.11 L1178.94,572.51 L1180.12,570.92 L1181.30,569.34 L1182.49,567.80 L1183.70,566.30 L1184.92,564.82 L1186.14,563.36 L1187.37,561.91 L1188.59,560.49 L1189.82,559.10 L1191.05,557.75 L1192.27,556.45 L1193.50,555.20 L1194.72,553.98 L1195.92,552.77 L1197.11,551.60 L1198.31,550.47 L1199.52,549.41 L1200.75,548.43 L1202.01,547.55 L1203.30,546.80 L1204.63,546.17 L1205.98,545.65 L1207.35,545.22 L1208.74,544.88 L1210.16,544.62 L1211.59,544.43 L1213.04,544.29 L1214.50,544.20 L1215.99,544.16 L1217.52,544.16 L1219.08,544.23 L1220.65,544.37 L1222.22,544.58 L1223.78,544.86 L1225.31,545.24 L1226.80,545.70 L1228.27,546.28 L1229.73,546.98 L1231.18,547.78 L1232.61,548.66 L1234.02,549.58 L1235.39,550.53 L1236.72,551.47 L1238.00,552.40 L1239.21,553.29 L1240.36,554.17 L1241.45,555.05 L1242.52,555.95 L1243.58,556.90 L1244.64,557.91 L1245.75,559.00 L1246.90,560.20 L1248.11,561.55 L1249.37,563.04 L1250.65,564.63 L1251.95,566.28 L1253.25,567.94 L1254.53,569.56 L1255.79,571.09 L1257.00,572.50 L1258.17,573.76 L1259.31,574.91 L1260.43,575.99 L1261.53,577.02 L1262.62,578.04 L1263.70,579.09 L1264.80,580.20 L1265.90,581.40 L1267.00,582.69 L1268.07,584.04 L1269.14,585.43 L1270.21,586.86 L1271.29,588.30 L1272.41,589.75 L1273.58,591.18 L1274.80,592.60 L1276.09,594.02 L1277.44,595.48 L1278.83,596.95 L1280.26,598.41 L1281.70,599.85 L1283.15,601.24 L1284.58,602.56 L1286.00,603.80 L1287.38,604.95 L1288.75,606.04 L1290.10,607.07 L1291.46,608.05 L1292.84,608.99 L1294.25,609.88 L1295.69,610.75 L1297.20,611.60 L1298.75,612.42 L1300.32,613.19 L1301.91,613.94 L1303.55,614.64 L1305.23,615.32 L1306.96,615.97 L1308.75,616.60 L1310.60,617.20 L1312.42,617.79 L1314.17,618.36 L1315.92,618.91 L1317.74,619.43 L1319.73,619.92 L1321.95,620.36 L1324.48,620.76 L1327.40,621.10 L1331.02,621.38 L1335.39,621.60 L1340.21,621.77 L1345.20,621.89 L1350.06,621.99 L1354.49,622.07 L1358.20,622.13 L1360.90,622.20" fill="none" stroke="#a4a4a4" stroke-width="2.2" stroke-linejoin="round"/>
<line x1="1136.9" y1="621.3" x2="1295.0" y2="621.3" stroke="#1c1c1c" stroke-width="3.2"/>
<text class="t" transform="translate(1186.24,552.29) scale(1.0702,1)" font-size="28.78" fill="#262626">0.08</text>
<text class="t" transform="translate(1067.43,616.79) scale(1.0745,1)" font-size="28.78" fill="#262626">0.07</text>
<text class="t" transform="translate(1303.94,616.79) scale(1.0716,1)" font-size="28.78" fill="#262626">0.09</text>
<line x1="52.2" y1="784.6" x2="671.1" y2="784.6" stroke="#808080" stroke-width="3.4"/>
<line x1="128.40" y1="784.6" x2="128.40" y2="793.40" stroke="#808080" stroke-width="2.8"/>
<text class="t" transform="translate(100.99,821.92) scale(1.0700,1)" font-size="26.37" fill="#262626">0.46</text>
<line x1="207.30" y1="784.6" x2="207.30" y2="793.40" stroke="#808080" stroke-width="2.8"/>
<text class="t" transform="translate(179.89,821.92) scale(1.0700,1)" font-size="26.37" fill="#262626">0.48</text>
<line x1="286.20" y1="784.6" x2="286.20" y2="793.40" stroke="#808080" stroke-width="2.8"/>
<text class="t" transform="translate(258.79,821.92) scale(1.0671,1)" font-size="26.37" fill="#262626">0.50</text>
<line x1="365.10" y1="784.6" x2="365.10" y2="793.40" stroke="#808080" stroke-width="2.8"/>
<text class="t" transform="translate(337.69,821.92) scale(1.0743,1)" font-size="26.37" fill="#262626">0.52</text>
<line x1="444.00" y1="784.6" x2="444.00" y2="793.40" stroke="#808080" stroke-width="2.8"/>
<text class="t" transform="translate(416.60,821.92) scale(1.0614,1)" font-size="26.37" fill="#262626">0.54</text>
<line x1="522.90" y1="784.6" x2="522.90" y2="793.40" stroke="#808080" stroke-width="2.8"/>
<text class="t" transform="translate(495.49,821.92) scale(1.0700,1)" font-size="26.37" fill="#262626">0.56</text>
<line x1="601.80" y1="784.6" x2="601.80" y2="793.40" stroke="#808080" stroke-width="2.8"/>
<text class="t" transform="translate(574.39,821.92) scale(1.0700,1)" font-size="26.37" fill="#262626">0.58</text>
<text class="t" transform="translate(55.75,748.18) scale(1.1818,1)" font-size="28.16" fill="#262626">#4</text>
<path d="M171.70,780.30 L173.41,780.11 L175.77,779.87 L178.58,779.59 L181.66,779.26 L184.82,778.91 L187.89,778.55 L190.68,778.17 L193.00,777.80 L194.91,777.45 L196.60,777.12 L198.10,776.78 L199.46,776.43 L200.71,776.04 L201.87,775.58 L202.99,775.04 L204.10,774.40 L205.15,773.65 L206.08,772.81 L206.93,771.89 L207.72,770.91 L208.47,769.88 L209.22,768.81 L209.99,767.71 L210.80,766.60 L211.65,765.48 L212.50,764.34 L213.35,763.16 L214.20,761.96 L215.05,760.70 L215.90,759.40 L216.75,758.03 L217.60,756.60 L218.44,755.09 L219.28,753.52 L220.12,751.89 L220.96,750.20 L221.79,748.47 L222.63,746.70 L223.46,744.91 L224.30,743.10 L225.15,741.24 L226.00,739.32 L226.86,737.36 L227.72,735.36 L228.57,733.36 L229.40,731.37 L230.22,729.41 L231.00,727.50 L231.76,725.58 L232.51,723.62 L233.23,721.64 L233.94,719.70 L234.64,717.83 L235.31,716.06 L235.96,714.44 L236.60,713.00 L237.19,711.75 L237.73,710.65 L238.24,709.68 L238.73,708.83 L239.23,708.07 L239.77,707.40 L240.35,706.78 L241.00,706.20 L241.75,705.67 L242.59,705.22 L243.49,704.84 L244.41,704.54 L245.33,704.30 L246.20,704.13 L247.00,704.03 L247.70,704.00 L248.27,704.00 L248.73,704.03 L249.12,704.11 L249.47,704.26 L249.81,704.52 L250.17,704.91 L250.59,705.46 L251.10,706.20 L251.69,707.18 L252.35,708.42 L253.04,709.84 L253.76,711.38 L254.50,712.97 L255.25,714.54 L255.98,716.04 L256.70,717.40 L257.42,718.64 L258.15,719.83 L258.90,720.99 L259.64,722.11 L260.37,723.21 L261.06,724.29 L261.71,725.35 L262.30,726.40 L262.81,727.39 L263.26,728.30 L263.65,729.17 L264.02,730.02 L264.38,730.92 L264.74,731.88 L265.15,732.97 L265.60,734.20 L266.10,735.61 L266.61,737.16 L267.15,738.81 L267.71,740.55 L268.28,742.33 L268.87,744.12 L269.48,745.89 L270.10,747.60 L270.74,749.30 L271.40,751.03 L272.07,752.77 L272.76,754.51 L273.47,756.22 L274.20,757.88 L274.94,759.48 L275.70,761.00 L276.45,762.44 L277.19,763.84 L277.93,765.18 L278.70,766.47 L279.51,767.71 L280.38,768.89 L281.34,770.02 L282.40,771.10 L283.50,772.13 L284.61,773.11 L285.76,774.05 L286.99,774.92 L288.35,775.74 L289.87,776.50 L291.61,777.19 L293.60,777.80 L296.06,778.33 L299.04,778.78 L302.34,779.15 L305.75,779.47 L309.08,779.73 L312.11,779.95 L314.65,780.14 L316.50,780.30" fill="none" stroke="#3f8bc8" stroke-width="3.0" stroke-linejoin="round"/>
<path d="M171.70,780.30 L173.41,780.11 L175.77,779.87 L178.58,779.59 L181.66,779.26 L184.82,778.91 L187.89,778.55 L190.68,778.17 L193.00,777.80 L194.91,777.45 L196.60,777.12 L198.10,776.78 L199.46,776.43 L200.71,776.04 L201.87,775.58 L202.99,775.04 L204.10,774.40 L205.15,773.65 L206.08,772.81 L206.93,771.89 L207.72,770.91 L208.47,769.88 L209.22,768.81 L209.99,767.71 L210.80,766.60 L211.65,765.48 L212.50,764.34 L213.35,763.16 L214.20,761.96 L215.05,760.70 L215.90,759.40 L216.75,758.03 L217.60,756.60 L218.44,755.09 L219.28,753.52 L220.12,751.89 L220.96,750.20 L221.79,748.47 L222.63,746.70 L223.46,744.91 L224.30,743.10 L225.15,741.24 L226.00,739.32 L226.86,737.36 L227.72,735.36 L228.57,733.36 L229.40,731.37 L230.22,729.41 L231.00,727.50 L231.76,725.58 L232.51,723.62 L233.23,721.64 L233.94,719.70 L234.64,717.83 L235.31,716.06 L235.96,714.44 L236.60,713.00 L237.19,711.75 L237.73,710.65 L238.24,709.68 L238.73,708.83 L239.23,708.07 L239.77,707.40 L240.35,706.78 L241.00,706.20 L241.75,705.67 L242.59,705.22 L243.49,704.84 L244.41,704.54 L245.33,704.30 L246.20,704.13 L247.00,704.03 L247.70,704.00 L248.27,704.00 L248.73,704.03 L249.12,704.11 L249.47,704.26 L249.81,704.52 L250.17,704.91 L250.59,705.46 L251.10,706.20 L251.69,707.18 L252.35,708.42 L253.04,709.84 L253.76,711.38 L254.50,712.97 L255.25,714.54 L255.98,716.04 L256.70,717.40 L257.42,718.64 L258.15,719.83 L258.90,720.99 L259.64,722.11 L260.37,723.21 L261.06,724.29 L261.71,725.35 L262.30,726.40 L262.81,727.39 L263.26,728.30 L263.65,729.17 L264.02,730.02 L264.38,730.92 L264.74,731.88 L265.15,732.97 L265.60,734.20 L266.10,735.61 L266.61,737.16 L267.15,738.81 L267.71,740.55 L268.28,742.33 L268.87,744.12 L269.48,745.89 L270.10,747.60 L270.74,749.30 L271.40,751.03 L272.07,752.77 L272.76,754.51 L273.47,756.22 L274.20,757.88 L274.94,759.48 L275.70,761.00 L276.45,762.44 L277.19,763.84 L277.93,765.18 L278.70,766.47 L279.51,767.71 L280.38,768.89 L281.34,770.02 L282.40,771.10 L283.50,772.13 L284.61,773.11 L285.76,774.05 L286.99,774.92 L288.35,775.74 L289.87,776.50 L291.61,777.19 L293.60,777.80 L296.06,778.33 L299.04,778.78 L302.34,779.15 L305.75,779.47 L309.08,779.73 L312.11,779.95 L314.65,780.14 L316.50,780.30 L316.50,780.4 L171.70,780.4 Z" fill="rgba(66,146,198,0.72)"/>
<line x1="209.5" y1="778.8000000000001" x2="279.6" y2="778.8000000000001" stroke="#1c1c1c" stroke-width="3.2"/>
<path d="M487.80,780.30 L489.42,780.13 L491.64,779.92 L494.30,779.68 L497.21,779.40 L500.20,779.07 L503.12,778.70 L505.77,778.28 L508.00,777.80 L509.84,777.27 L511.49,776.70 L512.97,776.07 L514.32,775.40 L515.57,774.68 L516.76,773.90 L517.93,773.08 L519.10,772.20 L520.24,771.28 L521.30,770.31 L522.30,769.31 L523.26,768.24 L524.19,767.12 L525.11,765.93 L526.04,764.66 L527.00,763.30 L527.99,761.84 L528.98,760.27 L529.98,758.62 L530.97,756.90 L531.96,755.14 L532.93,753.35 L533.88,751.57 L534.80,749.80 L535.70,748.02 L536.58,746.19 L537.44,744.34 L538.29,742.47 L539.12,740.62 L539.93,738.79 L540.72,737.01 L541.50,735.30 L542.25,733.63 L542.98,731.99 L543.68,730.38 L544.37,728.80 L545.05,727.27 L545.73,725.78 L546.41,724.36 L547.10,723.00 L547.80,721.69 L548.50,720.42 L549.20,719.19 L549.90,718.03 L550.60,716.92 L551.30,715.89 L552.00,714.95 L552.70,714.10 L553.40,713.34 L554.10,712.66 L554.80,712.05 L555.50,711.53 L556.20,711.08 L556.90,710.71 L557.60,710.41 L558.30,710.20 L558.98,710.05 L559.65,709.95 L560.30,709.93 L560.96,709.98 L561.64,710.13 L562.35,710.39 L563.09,710.78 L563.90,711.30 L564.78,711.98 L565.75,712.82 L566.76,713.80 L567.80,714.88 L568.84,716.03 L569.85,717.24 L570.82,718.47 L571.70,719.70 L572.51,720.94 L573.25,722.23 L573.96,723.56 L574.64,724.93 L575.30,726.34 L575.95,727.79 L576.62,729.28 L577.30,730.80 L577.99,732.37 L578.67,733.98 L579.35,735.64 L580.03,737.34 L580.72,739.06 L581.42,740.80 L582.15,742.55 L582.90,744.30 L583.68,746.09 L584.50,747.96 L585.33,749.86 L586.18,751.76 L587.04,753.64 L587.90,755.46 L588.75,757.19 L589.60,758.80 L590.42,760.29 L591.22,761.70 L592.02,763.04 L592.81,764.31 L593.63,765.52 L594.47,766.68 L595.36,767.81 L596.30,768.90 L597.19,769.96 L597.96,770.97 L598.71,771.94 L599.52,772.87 L600.49,773.75 L601.70,774.58 L603.24,775.36 L605.20,776.10 L607.83,776.80 L611.17,777.46 L614.94,778.08 L618.91,778.65 L622.80,779.16 L626.37,779.62 L629.35,780.00 L631.50,780.30 L631.50,780.4 L487.80,780.4 Z" fill="rgba(158,202,225,0.66)"/>
<path d="M487.80,780.30 L489.42,780.13 L491.64,779.92 L494.30,779.68 L497.21,779.40 L500.20,779.07 L503.12,778.70 L505.77,778.28 L508.00,777.80 L509.84,777.27 L511.49,776.70 L512.97,776.07 L514.32,775.40 L515.57,774.68 L516.76,773.90 L517.93,773.08 L519.10,772.20 L520.24,771.28 L521.30,770.31 L522.30,769.31 L523.26,768.24 L524.19,767.12 L525.11,765.93 L526.04,764.66 L527.00,763.30 L527.99,761.84 L528.98,760.27 L529.98,758.62 L530.97,756.90 L531.96,755.14 L532.93,753.35 L533.88,751.57 L534.80,749.80 L535.70,748.02 L536.58,746.19 L537.44,744.34 L538.29,742.47 L539.12,740.62 L539.93,738.79 L540.72,737.01 L541.50,735.30 L542.25,733.63 L542.98,731.99 L543.68,730.38 L544.37,728.80 L545.05,727.27 L545.73,725.78 L546.41,724.36 L547.10,723.00 L547.80,721.69 L548.50,720.42 L549.20,719.19 L549.90,718.03 L550.60,716.92 L551.30,715.89 L552.00,714.95 L552.70,714.10 L553.40,713.34 L554.10,712.66 L554.80,712.05 L555.50,711.53 L556.20,711.08 L556.90,710.71 L557.60,710.41 L558.30,710.20 L558.98,710.05 L559.65,709.95 L560.30,709.93 L560.96,709.98 L561.64,710.13 L562.35,710.39 L563.09,710.78 L563.90,711.30 L564.78,711.98 L565.75,712.82 L566.76,713.80 L567.80,714.88 L568.84,716.03 L569.85,717.24 L570.82,718.47 L571.70,719.70 L572.51,720.94 L573.25,722.23 L573.96,723.56 L574.64,724.93 L575.30,726.34 L575.95,727.79 L576.62,729.28 L577.30,730.80 L577.99,732.37 L578.67,733.98 L579.35,735.64 L580.03,737.34 L580.72,739.06 L581.42,740.80 L582.15,742.55 L582.90,744.30 L583.68,746.09 L584.50,747.96 L585.33,749.86 L586.18,751.76 L587.04,753.64 L587.90,755.46 L588.75,757.19 L589.60,758.80 L590.42,760.29 L591.22,761.70 L592.02,763.04 L592.81,764.31 L593.63,765.52 L594.47,766.68 L595.36,767.81 L596.30,768.90 L597.19,769.96 L597.96,770.97 L598.71,771.94 L599.52,772.87 L600.49,773.75 L601.70,774.58 L603.24,775.36 L605.20,776.10 L607.83,776.80 L611.17,777.46 L614.94,778.08 L618.91,778.65 L622.80,779.16 L626.37,779.62 L629.35,780.00 L631.50,780.30" fill="none" stroke="#aacfe5" stroke-width="2.3" stroke-linejoin="round"/>
<line x1="521.9" y1="778.8000000000001" x2="596.3" y2="778.8000000000001" stroke="#1c1c1c" stroke-width="3.2"/>
<text class="t" transform="translate(217.24,700.69) scale(1.0716,1)" font-size="28.78" fill="#262626">0.49</text>
<text class="t" transform="translate(140.54,773.69) scale(1.0702,1)" font-size="28.78" fill="#262626">0.48</text>
<text class="t" transform="translate(288.66,773.69) scale(1.0520,1)" font-size="28.78" fill="#262626">0.5</text>
<text class="t" transform="translate(529.43,709.09) scale(1.0745,1)" font-size="28.78" fill="#262626">0.57</text>
<text class="t" transform="translate(453.24,773.69) scale(1.0702,1)" font-size="28.78" fill="#262626">0.56</text>
<text class="t" transform="translate(605.49,773.69) scale(1.0702,1)" font-size="28.78" fill="#262626">0.58</text>
<line x1="800.1" y1="781.8" x2="1424.7" y2="781.8" stroke="#808080" stroke-width="3.4"/>
<line x1="837.35" y1="781.8" x2="837.35" y2="790.60" stroke="#808080" stroke-width="2.8"/>
<text class="t" transform="translate(809.94,819.12) scale(1.0743,1)" font-size="26.37" fill="#262626">0.02</text>
<line x1="967.95" y1="781.8" x2="967.95" y2="790.60" stroke="#808080" stroke-width="2.8"/>
<text class="t" transform="translate(940.55,819.12) scale(1.0614,1)" font-size="26.37" fill="#262626">0.04</text>
<line x1="1098.55" y1="781.8" x2="1098.55" y2="790.60" stroke="#808080" stroke-width="2.8"/>
<text class="t" transform="translate(1071.14,819.12) scale(1.0700,1)" font-size="26.37" fill="#262626">0.06</text>
<line x1="1229.15" y1="781.8" x2="1229.15" y2="790.60" stroke="#808080" stroke-width="2.8"/>
<text class="t" transform="translate(1201.74,819.12) scale(1.0700,1)" font-size="26.37" fill="#262626">0.08</text>
<line x1="1359.75" y1="781.8" x2="1359.75" y2="790.60" stroke="#808080" stroke-width="2.8"/>
<text class="t" transform="translate(1332.34,819.12) scale(1.0671,1)" font-size="26.37" fill="#262626">0.10</text>
<text class="t" transform="translate(804.05,745.78) scale(1.1611,1)" font-size="28.74" fill="#262626">#4</text>
<path d="M1044.20,777.80 L1047.17,777.74 L1051.20,777.67 L1056.00,777.59 L1061.30,777.49 L1066.82,777.38 L1072.27,777.24 L1077.39,777.09 L1081.90,776.90 L1085.92,776.70 L1089.78,776.48 L1093.48,776.25 L1097.04,776.00 L1100.45,775.71 L1103.73,775.39 L1106.87,775.02 L1109.90,774.60 L1112.76,774.13 L1115.44,773.61 L1117.95,773.05 L1120.35,772.44 L1122.66,771.81 L1124.91,771.13 L1127.15,770.43 L1129.40,769.70 L1131.66,768.94 L1133.89,768.16 L1136.08,767.35 L1138.23,766.51 L1140.33,765.62 L1142.36,764.70 L1144.32,763.72 L1146.20,762.70 L1147.97,761.63 L1149.61,760.51 L1151.17,759.35 L1152.68,758.15 L1154.16,756.90 L1155.65,755.61 L1157.19,754.28 L1158.80,752.90 L1160.48,751.45 L1162.20,749.91 L1163.95,748.32 L1165.71,746.69 L1167.49,745.05 L1169.27,743.42 L1171.04,741.83 L1172.80,740.30 L1174.59,738.81 L1176.43,737.34 L1178.30,735.87 L1180.16,734.44 L1181.97,733.03 L1183.70,731.67 L1185.32,730.36 L1186.80,729.10 L1188.12,727.92 L1189.31,726.80 L1190.39,725.74 L1191.39,724.72 L1192.33,723.72 L1193.25,722.73 L1194.16,721.73 L1195.10,720.70 L1196.04,719.64 L1196.94,718.55 L1197.82,717.46 L1198.68,716.38 L1199.53,715.31 L1200.38,714.28 L1201.23,713.31 L1202.10,712.40 L1202.94,711.55 L1203.72,710.72 L1204.48,709.94 L1205.25,709.20 L1206.06,708.51 L1206.96,707.88 L1207.96,707.30 L1209.10,706.80 L1210.42,706.36 L1211.91,705.98 L1213.52,705.66 L1215.20,705.39 L1216.90,705.19 L1218.59,705.04 L1220.20,704.94 L1221.70,704.90 L1223.08,704.94 L1224.38,705.07 L1225.63,705.27 L1226.84,705.52 L1228.06,705.80 L1229.29,706.08 L1230.56,706.36 L1231.90,706.60 L1233.32,706.80 L1234.81,706.96 L1236.34,707.11 L1237.89,707.27 L1239.44,707.46 L1240.95,707.69 L1242.42,708.00 L1243.80,708.40 L1245.09,708.86 L1246.29,709.35 L1247.44,709.88 L1248.56,710.47 L1249.67,711.15 L1250.82,711.92 L1252.02,712.79 L1253.30,713.80 L1254.66,714.97 L1256.09,716.30 L1257.55,717.75 L1259.05,719.29 L1260.57,720.89 L1262.09,722.49 L1263.60,724.08 L1265.10,725.60 L1266.59,727.09 L1268.10,728.60 L1269.61,730.11 L1271.12,731.62 L1272.62,733.12 L1274.11,734.61 L1275.57,736.07 L1277.00,737.50 L1278.39,738.90 L1279.76,740.29 L1281.10,741.65 L1282.43,743.00 L1283.74,744.33 L1285.05,745.64 L1286.37,746.93 L1287.70,748.20 L1289.03,749.46 L1290.35,750.72 L1291.66,751.96 L1292.98,753.17 L1294.30,754.37 L1295.64,755.52 L1297.01,756.64 L1298.40,757.70 L1299.81,758.70 L1301.24,759.64 L1302.67,760.53 L1304.13,761.39 L1305.62,762.24 L1307.14,763.07 L1308.69,763.92 L1310.30,764.80 L1311.92,765.72 L1313.55,766.67 L1315.19,767.63 L1316.88,768.59 L1318.63,769.52 L1320.47,770.42 L1322.42,771.25 L1324.50,772.00 L1326.63,772.68 L1328.76,773.30 L1330.95,773.87 L1333.26,774.40 L1335.73,774.88 L1338.42,775.32 L1341.39,775.73 L1344.70,776.10 L1348.66,776.43 L1353.37,776.71 L1358.52,776.95 L1363.81,777.16 L1368.95,777.33 L1373.62,777.47 L1377.54,777.59 L1380.40,777.70 L1380.40,777.4 L1044.20,777.4 Z" fill="#bbbbbb"/>
<path d="M1044.20,777.80 L1047.17,777.74 L1051.20,777.67 L1056.00,777.59 L1061.30,777.49 L1066.82,777.38 L1072.27,777.24 L1077.39,777.09 L1081.90,776.90 L1085.92,776.70 L1089.78,776.48 L1093.48,776.25 L1097.04,776.00 L1100.45,775.71 L1103.73,775.39 L1106.87,775.02 L1109.90,774.60 L1112.76,774.13 L1115.44,773.61 L1117.95,773.05 L1120.35,772.44 L1122.66,771.81 L1124.91,771.13 L1127.15,770.43 L1129.40,769.70 L1131.66,768.94 L1133.89,768.16 L1136.08,767.35 L1138.23,766.51 L1140.33,765.62 L1142.36,764.70 L1144.32,763.72 L1146.20,762.70 L1147.97,761.63 L1149.61,760.51 L1151.17,759.35 L1152.68,758.15 L1154.16,756.90 L1155.65,755.61 L1157.19,754.28 L1158.80,752.90 L1160.48,751.45 L1162.20,749.91 L1163.95,748.32 L1165.71,746.69 L1167.49,745.05 L1169.27,743.42 L1171.04,741.83 L1172.80,740.30 L1174.59,738.81 L1176.43,737.34 L1178.30,735.87 L1180.16,734.44 L1181.97,733.03 L1183.70,731.67 L1185.32,730.36 L1186.80,729.10 L1188.12,727.92 L1189.31,726.80 L1190.39,725.74 L1191.39,724.72 L1192.33,723.72 L1193.25,722.73 L1194.16,721.73 L1195.10,720.70 L1196.04,719.64 L1196.94,718.55 L1197.82,717.46 L1198.68,716.38 L1199.53,715.31 L1200.38,714.28 L1201.23,713.31 L1202.10,712.40 L1202.94,711.55 L1203.72,710.72 L1204.48,709.94 L1205.25,709.20 L1206.06,708.51 L1206.96,707.88 L1207.96,707.30 L1209.10,706.80 L1210.42,706.36 L1211.91,705.98 L1213.52,705.66 L1215.20,705.39 L1216.90,705.19 L1218.59,705.04 L1220.20,704.94 L1221.70,704.90 L1223.08,704.94 L1224.38,705.07 L1225.63,705.27 L1226.84,705.52 L1228.06,705.80 L1229.29,706.08 L1230.56,706.36 L1231.90,706.60 L1233.32,706.80 L1234.81,706.96 L1236.34,707.11 L1237.89,707.27 L1239.44,707.46 L1240.95,707.69 L1242.42,708.00 L1243.80,708.40 L1245.09,708.86 L1246.29,709.35 L1247.44,709.88 L1248.56,710.47 L1249.67,711.15 L1250.82,711.92 L1252.02,712.79 L1253.30,713.80 L1254.66,714.97 L1256.09,716.30 L1257.55,717.75 L1259.05,719.29 L1260.57,720.89 L1262.09,722.49 L1263.60,724.08 L1265.10,725.60 L1266.59,727.09 L1268.10,728.60 L1269.61,730.11 L1271.12,731.62 L1272.62,733.12 L1274.11,734.61 L1275.57,736.07 L1277.00,737.50 L1278.39,738.90 L1279.76,740.29 L1281.10,741.65 L1282.43,743.00 L1283.74,744.33 L1285.05,745.64 L1286.37,746.93 L1287.70,748.20 L1289.03,749.46 L1290.35,750.72 L1291.66,751.96 L1292.98,753.17 L1294.30,754.37 L1295.64,755.52 L1297.01,756.64 L1298.40,757.70 L1299.81,758.70 L1301.24,759.64 L1302.67,760.53 L1304.13,761.39 L1305.62,762.24 L1307.14,763.07 L1308.69,763.92 L1310.30,764.80 L1311.92,765.72 L1313.55,766.67 L1315.19,767.63 L1316.88,768.59 L1318.63,769.52 L1320.47,770.42 L1322.42,771.25 L1324.50,772.00 L1326.63,772.68 L1328.76,773.30 L1330.95,773.87 L1333.26,774.40 L1335.73,774.88 L1338.42,775.32 L1341.39,775.73 L1344.70,776.10 L1348.66,776.43 L1353.37,776.71 L1358.52,776.95 L1363.81,777.16 L1368.95,777.33 L1373.62,777.47 L1377.54,777.59 L1380.40,777.70" fill="none" stroke="#a4a4a4" stroke-width="2.2" stroke-linejoin="round"/>
<line x1="1142.3" y1="776.0999999999999" x2="1311.5" y2="776.0999999999999" stroke="#1c1c1c" stroke-width="3.2"/>
<text class="t" transform="translate(1192.04,707.29) scale(1.0702,1)" font-size="28.78" fill="#262626">0.08</text>
<text class="t" transform="translate(1073.03,771.49) scale(1.0745,1)" font-size="28.78" fill="#262626">0.07</text>
<text class="t" transform="translate(1320.34,771.49) scale(1.0716,1)" font-size="28.78" fill="#262626">0.09</text>
<line x1="52.2" y1="940.1" x2="671.1" y2="940.1" stroke="#808080" stroke-width="3.4"/>
<line x1="128.40" y1="940.1" x2="128.40" y2="948.90" stroke="#808080" stroke-width="2.8"/>
<text class="t" transform="translate(100.99,977.42) scale(1.0700,1)" font-size="26.37" fill="#262626">0.46</text>
<line x1="207.30" y1="940.1" x2="207.30" y2="948.90" stroke="#808080" stroke-width="2.8"/>
<text class="t" transform="translate(179.89,977.42) scale(1.0700,1)" font-size="26.37" fill="#262626">0.48</text>
<line x1="286.20" y1="940.1" x2="286.20" y2="948.90" stroke="#808080" stroke-width="2.8"/>
<text class="t" transform="translate(258.79,977.42) scale(1.0671,1)" font-size="26.37" fill="#262626">0.50</text>
<line x1="365.10" y1="940.1" x2="365.10" y2="948.90" stroke="#808080" stroke-width="2.8"/>
<text class="t" transform="translate(337.69,977.42) scale(1.0743,1)" font-size="26.37" fill="#262626">0.52</text>
<line x1="444.00" y1="940.1" x2="444.00" y2="948.90" stroke="#808080" stroke-width="2.8"/>
<text class="t" transform="translate(416.60,977.42) scale(1.0614,1)" font-size="26.37" fill="#262626">0.54</text>
<line x1="522.90" y1="940.1" x2="522.90" y2="948.90" stroke="#808080" stroke-width="2.8"/>
<text class="t" transform="translate(495.49,977.42) scale(1.0700,1)" font-size="26.37" fill="#262626">0.56</text>
<line x1="601.80" y1="940.1" x2="601.80" y2="948.90" stroke="#808080" stroke-width="2.8"/>
<text class="t" transform="translate(574.39,977.42) scale(1.0700,1)" font-size="26.37" fill="#262626">0.58</text>
<text class="t" transform="translate(55.75,903.40) scale(1.2131,1)" font-size="27.76" fill="#262626">#5</text>
<path d="M170.60,935.90 L172.41,935.75 L174.89,935.57 L177.86,935.35 L181.11,935.11 L184.44,934.83 L187.67,934.54 L190.59,934.23 L193.00,933.90 L194.96,933.58 L196.67,933.27 L198.18,932.96 L199.53,932.62 L200.76,932.23 L201.90,931.78 L203.00,931.24 L204.10,930.60 L205.15,929.85 L206.08,929.00 L206.93,928.07 L207.72,927.07 L208.47,926.02 L209.22,924.93 L209.99,923.82 L210.80,922.70 L211.65,921.57 L212.50,920.40 L213.35,919.20 L214.20,917.98 L215.05,916.71 L215.90,915.41 L216.75,914.07 L217.60,912.70 L218.44,911.29 L219.28,909.84 L220.12,908.36 L220.96,906.84 L221.79,905.28 L222.63,903.69 L223.46,902.06 L224.30,900.40 L225.15,898.67 L226.00,896.86 L226.86,894.99 L227.72,893.10 L228.57,891.21 L229.40,889.34 L230.22,887.53 L231.00,885.80 L231.75,884.11 L232.48,882.43 L233.18,880.77 L233.88,879.16 L234.56,877.60 L235.23,876.13 L235.91,874.75 L236.60,873.50 L237.29,872.38 L237.98,871.38 L238.67,870.48 L239.35,869.66 L240.03,868.90 L240.72,868.18 L241.41,867.49 L242.10,866.80 L242.80,866.08 L243.52,865.34 L244.24,864.62 L244.96,863.94 L245.68,863.34 L246.37,862.86 L247.05,862.54 L247.70,862.40 L248.31,862.46 L248.88,862.69 L249.42,863.06 L249.95,863.55 L250.48,864.14 L251.02,864.81 L251.59,865.54 L252.20,866.30 L252.85,867.13 L253.52,868.07 L254.22,869.10 L254.93,870.19 L255.65,871.32 L256.37,872.46 L257.09,873.60 L257.80,874.70 L258.51,875.77 L259.23,876.84 L259.95,877.90 L260.67,878.98 L261.38,880.07 L262.08,881.20 L262.75,882.37 L263.40,883.60 L264.01,884.87 L264.58,886.19 L265.12,887.53 L265.65,888.92 L266.18,890.34 L266.72,891.79 L267.29,893.28 L267.90,894.80 L268.54,896.38 L269.20,898.02 L269.87,899.71 L270.56,901.43 L271.27,903.16 L272.00,904.88 L272.74,906.56 L273.50,908.20 L274.28,909.81 L275.07,911.43 L275.88,913.04 L276.71,914.63 L277.56,916.18 L278.42,917.69 L279.30,919.13 L280.20,920.50 L281.10,921.80 L281.99,923.05 L282.90,924.25 L283.82,925.40 L284.78,926.49 L285.79,927.52 L286.85,928.49 L288.00,929.40 L289.15,930.24 L290.28,931.03 L291.41,931.75 L292.62,932.42 L293.96,933.03 L295.46,933.57 L297.19,934.07 L299.20,934.50 L301.70,934.86 L304.74,935.14 L308.11,935.36 L311.60,935.52 L315.00,935.64 L318.11,935.74 L320.71,935.82 L322.60,935.90" fill="none" stroke="#3f8bc8" stroke-width="3.0" stroke-linejoin="round"/>
<path d="M170.60,935.90 L172.41,935.75 L174.89,935.57 L177.86,935.35 L181.11,935.11 L184.44,934.83 L187.67,934.54 L190.59,934.23 L193.00,933.90 L194.96,933.58 L196.67,933.27 L198.18,932.96 L199.53,932.62 L200.76,932.23 L201.90,931.78 L203.00,931.24 L204.10,930.60 L205.15,929.85 L206.08,929.00 L206.93,928.07 L207.72,927.07 L208.47,926.02 L209.22,924.93 L209.99,923.82 L210.80,922.70 L211.65,921.57 L212.50,920.40 L213.35,919.20 L214.20,917.98 L215.05,916.71 L215.90,915.41 L216.75,914.07 L217.60,912.70 L218.44,911.29 L219.28,909.84 L220.12,908.36 L220.96,906.84 L221.79,905.28 L222.63,903.69 L223.46,902.06 L224.30,900.40 L225.15,898.67 L226.00,896.86 L226.86,894.99 L227.72,893.10 L228.57,891.21 L229.40,889.34 L230.22,887.53 L231.00,885.80 L231.75,884.11 L232.48,882.43 L233.18,880.77 L233.88,879.16 L234.56,877.60 L235.23,876.13 L235.91,874.75 L236.60,873.50 L237.29,872.38 L237.98,871.38 L238.67,870.48 L239.35,869.66 L240.03,868.90 L240.72,868.18 L241.41,867.49 L242.10,866.80 L242.80,866.08 L243.52,865.34 L244.24,864.62 L244.96,863.94 L245.68,863.34 L246.37,862.86 L247.05,862.54 L247.70,862.40 L248.31,862.46 L248.88,862.69 L249.42,863.06 L249.95,863.55 L250.48,864.14 L251.02,864.81 L251.59,865.54 L252.20,866.30 L252.85,867.13 L253.52,868.07 L254.22,869.10 L254.93,870.19 L255.65,871.32 L256.37,872.46 L257.09,873.60 L257.80,874.70 L258.51,875.77 L259.23,876.84 L259.95,877.90 L260.67,878.98 L261.38,880.07 L262.08,881.20 L262.75,882.37 L263.40,883.60 L264.01,884.87 L264.58,886.19 L265.12,887.53 L265.65,888.92 L266.18,890.34 L266.72,891.79 L267.29,893.28 L267.90,894.80 L268.54,896.38 L269.20,898.02 L269.87,899.71 L270.56,901.43 L271.27,903.16 L272.00,904.88 L272.74,906.56 L273.50,908.20 L274.28,909.81 L275.07,911.43 L275.88,913.04 L276.71,914.63 L277.56,916.18 L278.42,917.69 L279.30,919.13 L280.20,920.50 L281.10,921.80 L281.99,923.05 L282.90,924.25 L283.82,925.40 L284.78,926.49 L285.79,927.52 L286.85,928.49 L288.00,929.40 L289.15,930.24 L290.28,931.03 L291.41,931.75 L292.62,932.42 L293.96,933.03 L295.46,933.57 L297.19,934.07 L299.20,934.50 L301.70,934.86 L304.74,935.14 L308.11,935.36 L311.60,935.52 L315.00,935.64 L318.11,935.74 L320.71,935.82 L322.60,935.90 L322.60,936.1 L170.60,936.1 Z" fill="rgba(66,146,198,0.72)"/>
<line x1="210.3" y1="934.3000000000001" x2="284.9" y2="934.3000000000001" stroke="#1c1c1c" stroke-width="3.2"/>
<path d="M490.60,935.60 L492.41,935.46 L494.89,935.30 L497.86,935.11 L501.11,934.89 L504.44,934.61 L507.67,934.28 L510.59,933.88 L513.00,933.40 L514.95,932.83 L516.64,932.19 L518.13,931.49 L519.46,930.72 L520.67,929.90 L521.81,929.03 L522.94,928.13 L524.10,927.20 L525.25,926.23 L526.33,925.22 L527.35,924.16 L528.33,923.06 L529.27,921.92 L530.18,920.75 L531.09,919.54 L532.00,918.30 L532.89,917.03 L533.76,915.71 L534.60,914.37 L535.43,912.98 L536.24,911.56 L537.05,910.11 L537.87,908.62 L538.70,907.10 L539.54,905.52 L540.38,903.85 L541.21,902.14 L542.05,900.40 L542.89,898.66 L543.73,896.95 L544.56,895.28 L545.40,893.70 L546.25,892.18 L547.10,890.69 L547.96,889.24 L548.82,887.83 L549.67,886.44 L550.50,885.09 L551.32,883.78 L552.10,882.50 L552.84,881.24 L553.54,879.99 L554.21,878.77 L554.86,877.59 L555.52,876.46 L556.21,875.40 L556.93,874.40 L557.70,873.50 L558.53,872.65 L559.41,871.84 L560.32,871.08 L561.25,870.39 L562.20,869.80 L563.14,869.33 L564.08,868.98 L565.00,868.80 L565.91,868.79 L566.82,868.93 L567.73,869.21 L568.64,869.61 L569.54,870.09 L570.44,870.65 L571.32,871.26 L572.20,871.90 L573.06,872.57 L573.91,873.29 L574.75,874.08 L575.58,874.93 L576.41,875.85 L577.24,876.85 L578.07,877.93 L578.90,879.10 L579.74,880.38 L580.57,881.76 L581.41,883.24 L582.25,884.79 L583.09,886.39 L583.92,888.04 L584.76,889.72 L585.60,891.40 L586.44,893.13 L587.27,894.94 L588.11,896.81 L588.95,898.70 L589.79,900.59 L590.62,902.46 L591.46,904.27 L592.30,906.00 L593.14,907.67 L593.97,909.32 L594.81,910.93 L595.64,912.51 L596.48,914.04 L597.32,915.52 L598.16,916.94 L599.00,918.30 L599.82,919.59 L600.59,920.83 L601.35,922.01 L602.12,923.13 L602.93,924.21 L603.80,925.24 L604.74,926.24 L605.80,927.20 L606.88,928.13 L607.93,929.03 L609.01,929.90 L610.17,930.72 L611.48,931.49 L613.00,932.19 L614.78,932.83 L616.90,933.40 L619.59,933.88 L622.90,934.28 L626.60,934.61 L630.44,934.89 L634.20,935.11 L637.64,935.30 L640.52,935.46 L642.60,935.60 L642.60,936.1 L490.60,936.1 Z" fill="rgba(158,202,225,0.66)"/>
<path d="M490.60,935.60 L492.41,935.46 L494.89,935.30 L497.86,935.11 L501.11,934.89 L504.44,934.61 L507.67,934.28 L510.59,933.88 L513.00,933.40 L514.95,932.83 L516.64,932.19 L518.13,931.49 L519.46,930.72 L520.67,929.90 L521.81,929.03 L522.94,928.13 L524.10,927.20 L525.25,926.23 L526.33,925.22 L527.35,924.16 L528.33,923.06 L529.27,921.92 L530.18,920.75 L531.09,919.54 L532.00,918.30 L532.89,917.03 L533.76,915.71 L534.60,914.37 L535.43,912.98 L536.24,911.56 L537.05,910.11 L537.87,908.62 L538.70,907.10 L539.54,905.52 L540.38,903.85 L541.21,902.14 L542.05,900.40 L542.89,898.66 L543.73,896.95 L544.56,895.28 L545.40,893.70 L546.25,892.18 L547.10,890.69 L547.96,889.24 L548.82,887.83 L549.67,886.44 L550.50,885.09 L551.32,883.78 L552.10,882.50 L552.84,881.24 L553.54,879.99 L554.21,878.77 L554.86,877.59 L555.52,876.46 L556.21,875.40 L556.93,874.40 L557.70,873.50 L558.53,872.65 L559.41,871.84 L560.32,871.08 L561.25,870.39 L562.20,869.80 L563.14,869.33 L564.08,868.98 L565.00,868.80 L565.91,868.79 L566.82,868.93 L567.73,869.21 L568.64,869.61 L569.54,870.09 L570.44,870.65 L571.32,871.26 L572.20,871.90 L573.06,872.57 L573.91,873.29 L574.75,874.08 L575.58,874.93 L576.41,875.85 L577.24,876.85 L578.07,877.93 L578.90,879.10 L579.74,880.38 L580.57,881.76 L581.41,883.24 L582.25,884.79 L583.09,886.39 L583.92,888.04 L584.76,889.72 L585.60,891.40 L586.44,893.13 L587.27,894.94 L588.11,896.81 L588.95,898.70 L589.79,900.59 L590.62,902.46 L591.46,904.27 L592.30,906.00 L593.14,907.67 L593.97,909.32 L594.81,910.93 L595.64,912.51 L596.48,914.04 L597.32,915.52 L598.16,916.94 L599.00,918.30 L599.82,919.59 L600.59,920.83 L601.35,922.01 L602.12,923.13 L602.93,924.21 L603.80,925.24 L604.74,926.24 L605.80,927.20 L606.88,928.13 L607.93,929.03 L609.01,929.90 L610.17,930.72 L611.48,931.49 L613.00,932.19 L614.78,932.83 L616.90,933.40 L619.59,933.88 L622.90,934.28 L626.60,934.61 L630.44,934.89 L634.20,935.11 L637.64,935.30 L640.52,935.46 L642.60,935.60" fill="none" stroke="#aacfe5" stroke-width="2.3" stroke-linejoin="round"/>
<line x1="526.6" y1="934.3000000000001" x2="606.0" y2="934.3000000000001" stroke="#1c1c1c" stroke-width="3.2"/>
<text class="t" transform="translate(218.09,864.49) scale(1.0716,1)" font-size="28.78" fill="#262626">0.49</text>
<text class="t" transform="translate(141.79,929.29) scale(1.0702,1)" font-size="28.78" fill="#262626">0.48</text>
<text class="t" transform="translate(293.66,929.29) scale(1.0520,1)" font-size="28.78" fill="#262626">0.5</text>
<text class="t" transform="translate(535.03,864.49) scale(1.0745,1)" font-size="28.78" fill="#262626">0.57</text>
<text class="t" transform="translate(457.44,929.29) scale(1.0702,1)" font-size="28.78" fill="#262626">0.56</text>
<text class="t" transform="translate(615.14,929.29) scale(1.0702,1)" font-size="28.78" fill="#262626">0.58</text>
<line x1="800.1" y1="937.3" x2="1424.7" y2="937.3" stroke="#808080" stroke-width="3.4"/>
<line x1="837.35" y1="937.3" x2="837.35" y2="946.10" stroke="#808080" stroke-width="2.8"/>
<text class="t" transform="translate(809.94,974.62) scale(1.0743,1)" font-size="26.37" fill="#262626">0.02</text>
<line x1="967.95" y1="937.3" x2="967.95" y2="946.10" stroke="#808080" stroke-width="2.8"/>
<text class="t" transform="translate(940.55,974.62) scale(1.0614,1)" font-size="26.37" fill="#262626">0.04</text>
<line x1="1098.55" y1="937.3" x2="1098.55" y2="946.10" stroke="#808080" stroke-width="2.8"/>
<text class="t" transform="translate(1071.14,974.62) scale(1.0700,1)" font-size="26.37" fill="#262626">0.06</text>
<line x1="1229.15" y1="937.3" x2="1229.15" y2="946.10" stroke="#808080" stroke-width="2.8"/>
<text class="t" transform="translate(1201.74,974.62) scale(1.0700,1)" font-size="26.37" fill="#262626">0.08</text>
<line x1="1359.75" y1="937.3" x2="1359.75" y2="946.10" stroke="#808080" stroke-width="2.8"/>
<text class="t" transform="translate(1332.34,974.62) scale(1.0671,1)" font-size="26.37" fill="#262626">0.10</text>
<text class="t" transform="translate(804.05,901.00) scale(1.1919,1)" font-size="28.33" fill="#262626">#5</text>
<path d="M1042.00,932.80 L1044.74,932.74 L1048.43,932.65 L1052.83,932.56 L1057.70,932.45 L1062.78,932.33 L1067.84,932.20 L1072.63,932.05 L1076.90,931.90 L1080.78,931.75 L1084.55,931.59 L1088.22,931.43 L1091.78,931.26 L1095.22,931.07 L1098.56,930.85 L1101.79,930.60 L1104.90,930.30 L1107.87,929.97 L1110.69,929.62 L1113.38,929.25 L1115.96,928.84 L1118.47,928.40 L1120.93,927.92 L1123.37,927.38 L1125.80,926.80 L1128.23,926.16 L1130.64,925.47 L1133.01,924.73 L1135.33,923.96 L1137.60,923.14 L1139.81,922.29 L1141.94,921.41 L1144.00,920.50 L1145.95,919.57 L1147.80,918.61 L1149.56,917.63 L1151.26,916.61 L1152.93,915.55 L1154.60,914.45 L1156.28,913.30 L1158.00,912.10 L1159.78,910.81 L1161.60,909.43 L1163.43,907.98 L1165.26,906.50 L1167.06,905.02 L1168.80,903.57 L1170.45,902.19 L1172.00,900.90 L1173.42,899.71 L1174.71,898.57 L1175.93,897.48 L1177.08,896.44 L1178.21,895.42 L1179.36,894.44 L1180.54,893.46 L1181.80,892.50 L1183.13,891.58 L1184.51,890.72 L1185.92,889.90 L1187.35,889.09 L1188.78,888.27 L1190.19,887.41 L1191.57,886.50 L1192.90,885.50 L1194.20,884.41 L1195.47,883.24 L1196.73,882.03 L1197.97,880.77 L1199.18,879.49 L1200.38,878.21 L1201.55,876.94 L1202.70,875.70 L1203.82,874.44 L1204.90,873.11 L1205.95,871.77 L1206.99,870.43 L1208.01,869.15 L1209.03,867.96 L1210.06,866.90 L1211.10,866.00 L1212.17,865.26 L1213.25,864.65 L1214.35,864.14 L1215.44,863.74 L1216.52,863.42 L1217.56,863.18 L1218.56,863.01 L1219.50,862.90 L1220.30,862.89 L1220.95,863.00 L1221.52,863.22 L1222.08,863.49 L1222.69,863.80 L1223.43,864.11 L1224.38,864.39 L1225.60,864.60 L1227.15,864.74 L1228.97,864.83 L1231.00,864.89 L1233.16,864.96 L1235.37,865.04 L1237.56,865.16 L1239.67,865.34 L1241.60,865.60 L1243.38,865.92 L1245.09,866.28 L1246.75,866.68 L1248.37,867.12 L1249.97,867.63 L1251.56,868.21 L1253.16,868.86 L1254.80,869.60 L1256.48,870.44 L1258.18,871.38 L1259.90,872.40 L1261.61,873.49 L1263.31,874.63 L1264.96,875.80 L1266.57,877.00 L1268.10,878.20 L1269.55,879.45 L1270.94,880.77 L1272.27,882.14 L1273.57,883.54 L1274.84,884.93 L1276.11,886.29 L1277.39,887.59 L1278.70,888.80 L1280.02,889.91 L1281.32,890.92 L1282.61,891.88 L1283.91,892.80 L1285.22,893.72 L1286.55,894.68 L1287.91,895.69 L1289.30,896.80 L1290.74,898.02 L1292.23,899.33 L1293.76,900.70 L1295.30,902.10 L1296.84,903.50 L1298.37,904.87 L1299.86,906.18 L1301.30,907.40 L1302.67,908.53 L1303.99,909.60 L1305.26,910.62 L1306.52,911.61 L1307.79,912.57 L1309.09,913.51 L1310.46,914.45 L1311.90,915.40 L1313.42,916.36 L1314.97,917.31 L1316.58,918.25 L1318.22,919.18 L1319.90,920.10 L1321.63,920.99 L1323.39,921.86 L1325.20,922.70 L1327.04,923.52 L1328.90,924.34 L1330.80,925.14 L1332.74,925.92 L1334.73,926.66 L1336.78,927.36 L1338.90,928.01 L1341.10,928.60 L1343.30,929.13 L1345.45,929.60 L1347.62,930.03 L1349.88,930.41 L1352.29,930.75 L1354.90,931.06 L1357.78,931.34 L1361.00,931.60 L1364.86,931.83 L1369.43,932.01 L1374.42,932.17 L1379.54,932.29 L1384.51,932.39 L1389.04,932.47 L1392.83,932.54 L1395.60,932.60 L1395.60,932.7 L1042.00,932.7 Z" fill="#bbbbbb"/>
<path d="M1042.00,932.80 L1044.74,932.74 L1048.43,932.65 L1052.83,932.56 L1057.70,932.45 L1062.78,932.33 L1067.84,932.20 L1072.63,932.05 L1076.90,931.90 L1080.78,931.75 L1084.55,931.59 L1088.22,931.43 L1091.78,931.26 L1095.22,931.07 L1098.56,930.85 L1101.79,930.60 L1104.90,930.30 L1107.87,929.97 L1110.69,929.62 L1113.38,929.25 L1115.96,928.84 L1118.47,928.40 L1120.93,927.92 L1123.37,927.38 L1125.80,926.80 L1128.23,926.16 L1130.64,925.47 L1133.01,924.73 L1135.33,923.96 L1137.60,923.14 L1139.81,922.29 L1141.94,921.41 L1144.00,920.50 L1145.95,919.57 L1147.80,918.61 L1149.56,917.63 L1151.26,916.61 L1152.93,915.55 L1154.60,914.45 L1156.28,913.30 L1158.00,912.10 L1159.78,910.81 L1161.60,909.43 L1163.43,907.98 L1165.26,906.50 L1167.06,905.02 L1168.80,903.57 L1170.45,902.19 L1172.00,900.90 L1173.42,899.71 L1174.71,898.57 L1175.93,897.48 L1177.08,896.44 L1178.21,895.42 L1179.36,894.44 L1180.54,893.46 L1181.80,892.50 L1183.13,891.58 L1184.51,890.72 L1185.92,889.90 L1187.35,889.09 L1188.78,888.27 L1190.19,887.41 L1191.57,886.50 L1192.90,885.50 L1194.20,884.41 L1195.47,883.24 L1196.73,882.03 L1197.97,880.77 L1199.18,879.49 L1200.38,878.21 L1201.55,876.94 L1202.70,875.70 L1203.82,874.44 L1204.90,873.11 L1205.95,871.77 L1206.99,870.43 L1208.01,869.15 L1209.03,867.96 L1210.06,866.90 L1211.10,866.00 L1212.17,865.26 L1213.25,864.65 L1214.35,864.14 L1215.44,863.74 L1216.52,863.42 L1217.56,863.18 L1218.56,863.01 L1219.50,862.90 L1220.30,862.89 L1220.95,863.00 L1221.52,863.22 L1222.08,863.49 L1222.69,863.80 L1223.43,864.11 L1224.38,864.39 L1225.60,864.60 L1227.15,864.74 L1228.97,864.83 L1231.00,864.89 L1233.16,864.96 L1235.37,865.04 L1237.56,865.16 L1239.67,865.34 L1241.60,865.60 L1243.38,865.92 L1245.09,866.28 L1246.75,866.68 L1248.37,867.12 L1249.97,867.63 L1251.56,868.21 L1253.16,868.86 L1254.80,869.60 L1256.48,870.44 L1258.18,871.38 L1259.90,872.40 L1261.61,873.49 L1263.31,874.63 L1264.96,875.80 L1266.57,877.00 L1268.10,878.20 L1269.55,879.45 L1270.94,880.77 L1272.27,882.14 L1273.57,883.54 L1274.84,884.93 L1276.11,886.29 L1277.39,887.59 L1278.70,888.80 L1280.02,889.91 L1281.32,890.92 L1282.61,891.88 L1283.91,892.80 L1285.22,893.72 L1286.55,894.68 L1287.91,895.69 L1289.30,896.80 L1290.74,898.02 L1292.23,899.33 L1293.76,900.70 L1295.30,902.10 L1296.84,903.50 L1298.37,904.87 L1299.86,906.18 L1301.30,907.40 L1302.67,908.53 L1303.99,909.60 L1305.26,910.62 L1306.52,911.61 L1307.79,912.57 L1309.09,913.51 L1310.46,914.45 L1311.90,915.40 L1313.42,916.36 L1314.97,917.31 L1316.58,918.25 L1318.22,919.18 L1319.90,920.10 L1321.63,920.99 L1323.39,921.86 L1325.20,922.70 L1327.04,923.52 L1328.90,924.34 L1330.80,925.14 L1332.74,925.92 L1334.73,926.66 L1336.78,927.36 L1338.90,928.01 L1341.10,928.60 L1343.30,929.13 L1345.45,929.60 L1347.62,930.03 L1349.88,930.41 L1352.29,930.75 L1354.90,931.06 L1357.78,931.34 L1361.00,931.60 L1364.86,931.83 L1369.43,932.01 L1374.42,932.17 L1379.54,932.29 L1384.51,932.39 L1389.04,932.47 L1392.83,932.54 L1395.60,932.60" fill="none" stroke="#a4a4a4" stroke-width="2.2" stroke-linejoin="round"/>
<line x1="1143.3" y1="931.5999999999999" x2="1321.9" y2="931.5999999999999" stroke="#1c1c1c" stroke-width="3.2"/>
<text class="t" transform="translate(1189.24,861.79) scale(1.0702,1)" font-size="28.78" fill="#262626">0.08</text>
<text class="t" transform="translate(1073.73,926.99) scale(1.0745,1)" font-size="28.78" fill="#262626">0.07</text>
<text class="t" transform="translate(1330.69,926.99) scale(1.0716,1)" font-size="28.78" fill="#262626">0.09</text>
</svg>
</body></html>
